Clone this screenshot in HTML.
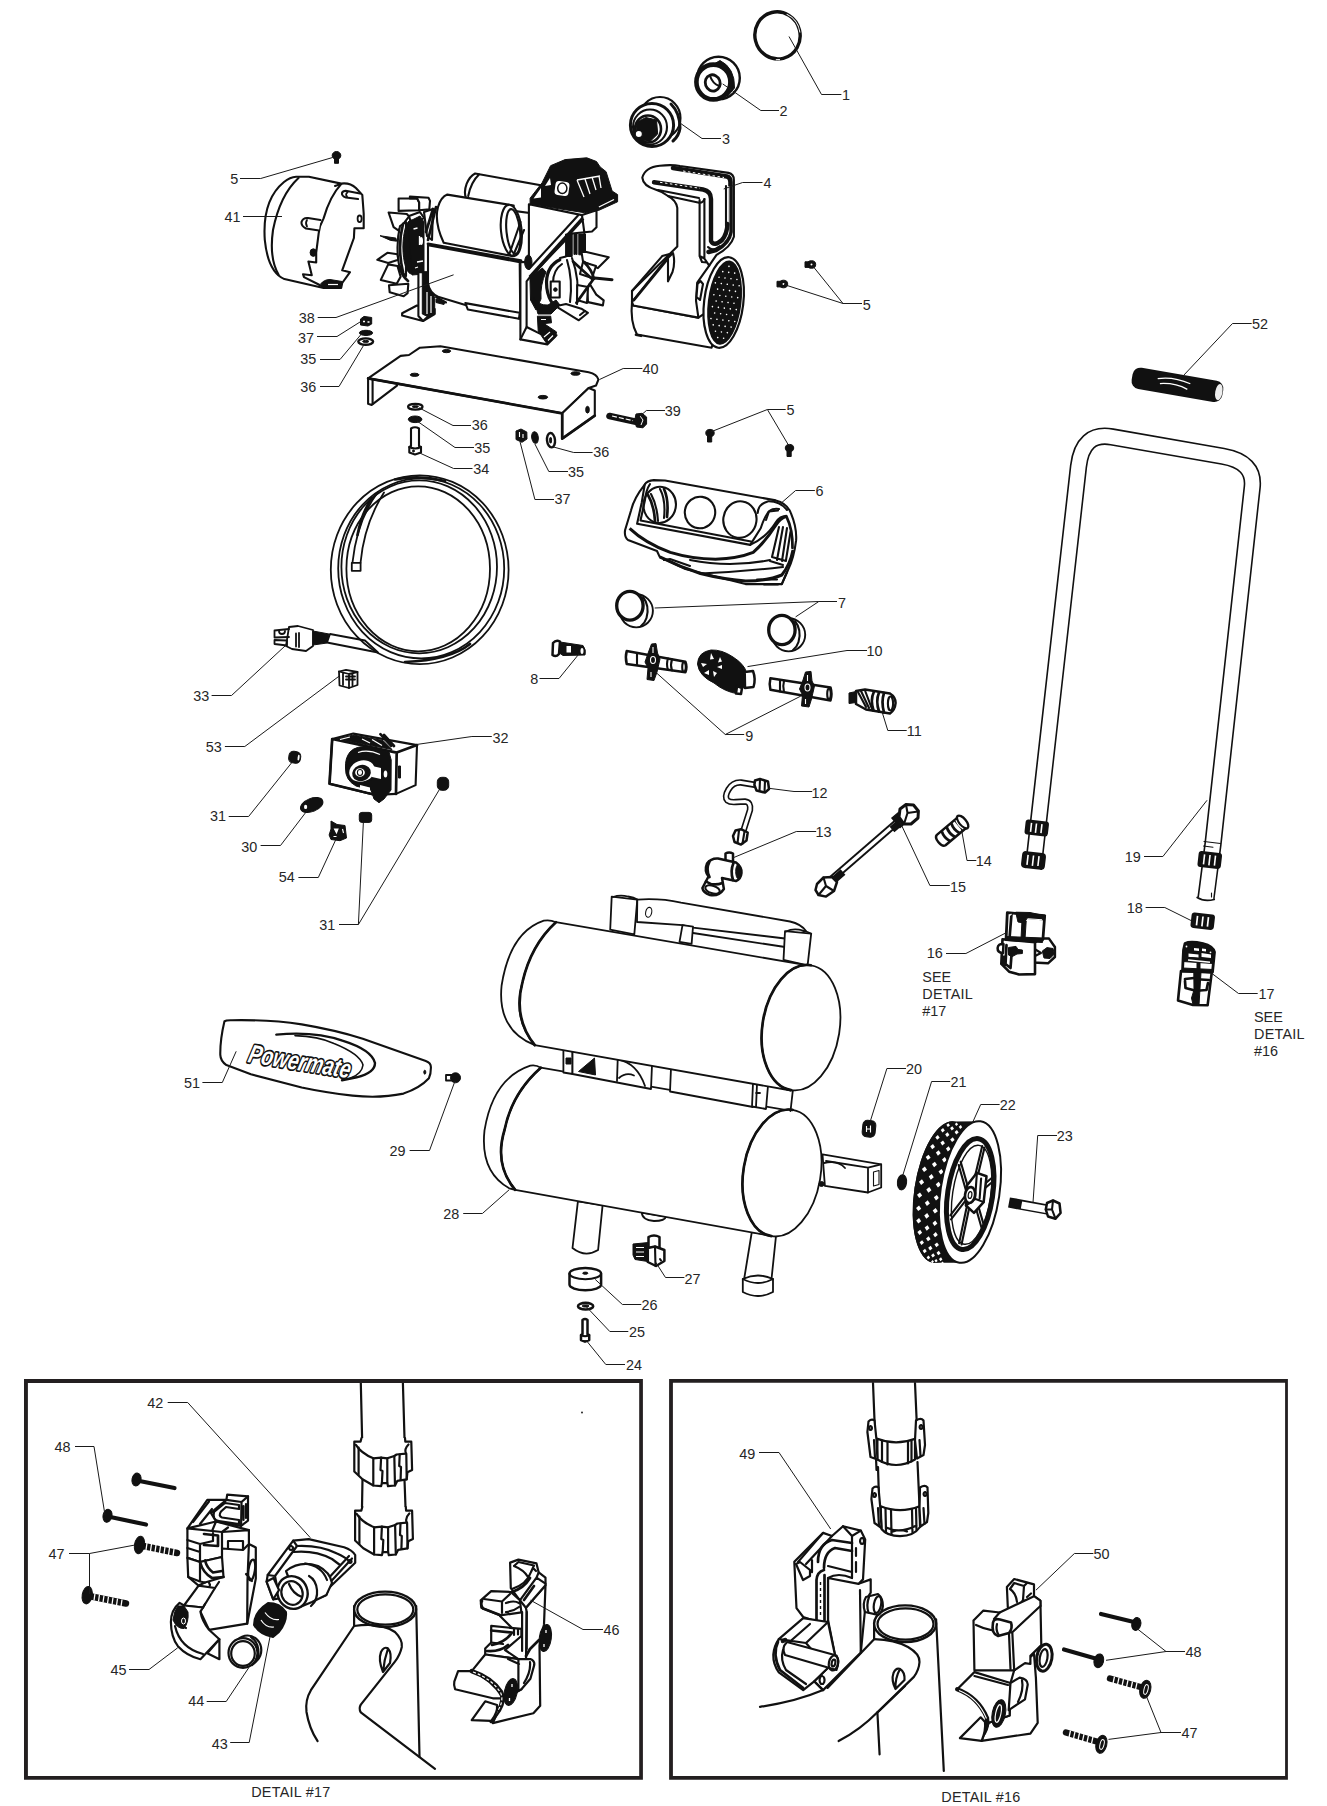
<!DOCTYPE html>
<html lang="en">
<head>
<meta charset="utf-8">
<title>Powermate Air Compressor - Exploded Parts Diagram</title>
<style>
html,body{margin:0;padding:0;background:#fff;}
body{width:1327px;height:1806px;overflow:hidden;font-family:"Liberation Sans",sans-serif;}
svg{display:block;}
svg text{font-family:"Liberation Sans",sans-serif;font-size:14.4px;fill:#262626;}
.ld{fill:none;stroke:#1a1a1a;stroke-width:1;}
.p{fill:none;stroke:#111;stroke-width:1.8;stroke-linejoin:round;stroke-linecap:round;}
.pw{fill:#fff;stroke:#111;stroke-width:1.8;stroke-linejoin:round;stroke-linecap:round;}
.m{fill:none;stroke:#111;stroke-width:2.1;stroke-linejoin:round;stroke-linecap:round;}
.mw{fill:#fff;stroke:#111;stroke-width:2.1;stroke-linejoin:round;stroke-linecap:round;}
.t{fill:none;stroke:#111;stroke-width:1.1;stroke-linejoin:round;stroke-linecap:round;}
.tw{fill:#fff;stroke:#111;stroke-width:1.1;stroke-linejoin:round;stroke-linecap:round;}
.k{fill:#111;stroke:#111;stroke-width:1;stroke-linejoin:round;}
.h{fill:none;stroke:#111;stroke-width:2.7;stroke-linejoin:round;stroke-linecap:round;}
.hw{fill:#fff;stroke:#111;stroke-width:2.5;stroke-linejoin:round;stroke-linecap:round;}
.dt .m,.dt .mw{stroke-width:2.2;}
</style>
</head>
<body>
<svg width="1327" height="1806" viewBox="0 0 1327 1806">
<rect x="0" y="0" width="1327" height="1806" fill="#fff"/>
<g id="tanks">
<!-- top handle frame on upper tank -->
<path class="pw" d="M611.7 896.6 L637.3 899.6 L634.3 934.3 L610.2 929.7 Z"/>
<path class="p" d="M613 897 Q620 894.5 628 896.5 Q634 897.5 637.3 899.6"/>
<path class="pw" d="M637.3 899.6 Q660 898 681 902.6 L790 921.5 Q801 924 806 931 L785 938.5 L693 927.6 L682.5 925.2 L637 922 Z"/>
<ellipse class="t" cx="648.7" cy="912.3" rx="3" ry="5" transform="rotate(12 648.7 912.3)"/>
<path class="pw" d="M682.5 925.2 L693 926.7 L691.6 943.9 L679.5 941.8 Z"/>
<path class="p" d="M693 933 L785 947"/>
<path class="pw" d="M785 931.2 L811.2 933.7 L807.6 965.3 L783.5 959.9 Z"/>
<path class="p" d="M786 931.5 Q793 928 803 930.5 Q808 931.8 811.2 933.7"/>
<!-- axle -->
<path class="pw" d="M822.5 1154.4 L881.2 1164.3 L881.2 1187.5 L868 1192.5 L824.9 1185.9 Z"/>
<path class="p" d="M868 1167.6 L881.2 1164.3 M868 1167.6 L868 1192.5 M868 1167.6 L826 1161"/>
<path class="t" d="M873.5 1172 L879 1170.5 L879 1184.5 L873.5 1186 Z"/>
<path class="p" d="M824 1163 Q838 1160 845 1168"/>
<!-- legs -->
<path class="pw" d="M577.9 1201.3 L602.6 1205.2 L598.1 1250 Q585 1258 572.5 1248 Z"/>
<path class="pw" d="M641.8 1212.5 Q642 1220 654 1221 Q665 1221 666 1216.5 Z"/>
<path class="pw" d="M751.8 1232 L776 1236 L771.4 1280 L744.3 1278 Z"/>
<path class="pw" d="M742.8 1279 Q758 1272 773 1279 L773 1292 Q758 1300 742.8 1292 Z"/>
<path class="p" d="M742.8 1279 Q758 1287 773 1279"/>
<!-- lower tank -->
<path class="pw" d="M540.8 1067.7 L791 1110.8 L771.4 1236 L515.2 1189.8 Q494 1165 504.5 1130 Q512 1093 540.8 1067.7 Z"/>
<path class="pw" d="M540.8 1067.7 Q536 1064.5 530.3 1065.6 Q493 1078 484.5 1130.4 Q480 1172 509.2 1188.3 L515.2 1189.8 Q494 1165 504.5 1130 Q512 1093 540.8 1067.7 Z"/>
<path class="h" d="M540.8 1067.7 Q512 1093 504.5 1130 Q494 1165 515.2 1189.8"/>
<ellipse class="pw" cx="782" cy="1173" rx="38.6" ry="64" transform="rotate(9.5 782 1173)"/>
<path class="h" d="M782 1109 A38.6 64 0 0 0 782 1237" transform="rotate(9.5 782 1173)"/>
<circle class="k" cx="821.5" cy="1184" r="2.5"/>
<!-- between-tank brackets -->
<path class="pw" d="M563.4 1049.5 L572.5 1051 L572.5 1074 L563.4 1072.5 Z"/>
<path class="k" d="M566 1058 h5 v6 h-5z"/>
<path class="pw" d="M572.5 1051 L652 1065 L651 1089 L572.5 1074 Z"/>
<path class="k" d="M594.5 1058 L595.5 1075 L578.5 1071.5 Z"/>
<path class="p" d="M617.7 1059.4 L617 1081 M617.7 1059.4 Q637 1063 645 1086 M619 1078 Q626 1072 634 1075.5"/>
<path class="pw" d="M671 1068 L755 1083 L753 1107 L670 1091.5 Z"/>
<path class="pw" d="M753 1083 L768 1085.5 L766 1109 L752 1106.5 Z"/>
<path class="p" d="M757 1084 L756 1107 M756 1093 h4"/>
<path class="p" d="M793 1089 L790.5 1111"/>
<!-- upper tank -->
<path class="pw" d="M555.9 922.2 L807.6 965.3 L791 1090.5 L534.8 1045.2 Q512 1022 521.8 985 Q528 948 555.9 922.2 Z"/>
<path class="pw" d="M555.9 922.2 Q550 919.5 543.8 920.7 Q510 932 501.6 985.5 Q497 1030 534.8 1045.2 Q512 1018 522.5 982 Q531 945 555.9 922.2 Z"/>
<path class="h" d="M555.9 922.2 Q531 945 522.5 982 Q513 1018 534.8 1045.2"/>
<ellipse class="pw" cx="801" cy="1027.7" rx="38.6" ry="63.2" transform="rotate(9 801 1027.7)"/>
<path class="h" d="M801 964.5 A38.6 63.2 0 0 0 801 1090.9" transform="rotate(9 801 1027.7)"/>
</g>
<g id="handle">
<path d="M1033.2 869 L1078.5 466.5 Q1082.4 431.7 1112 436.9 L1222.8 456.3 Q1255 461.9 1252.2 487.2 L1213 844 L1206 898" fill="none" stroke="#111" stroke-width="17.4" stroke-linejoin="round"/>
<path d="M1033 871 L1078.5 466.5 Q1082.4 431.7 1112 436.9 L1222.8 456.3 Q1255 461.9 1252.2 487.2 L1213 844 L1205.8 900" fill="none" stroke="#fff" stroke-width="14.2" stroke-linejoin="round"/>
<path class="p" d="M1197.2 897.5 Q1204 902 1214.2 899.5"/>
<!-- rings on left leg -->
<g transform="rotate(6.5 1036.5 828)">
<rect x="1025" y="820.5" width="23.5" height="15" rx="3" fill="#111"/>
<path d="M1031 823.5v9M1036 823.5v9.5M1041.5 823.5v9" stroke="#fff" stroke-width="1.6" fill="none"/>
</g>
<g transform="rotate(6.5 1033.5 860.5)">
<rect x="1021.5" y="852" width="24" height="17" rx="4" fill="#111"/>
<path d="M1027.5 855.5v10M1033 855.5v10.5M1038.5 855.5v10" stroke="#fff" stroke-width="1.6" fill="none"/>
</g>
<!-- ring on right leg -->
<path class="t" d="M1204 841.5 L1220.5 843.5 M1203.5 846 L1213 847.2"/>
<g transform="rotate(6.5 1209.5 860)">
<rect x="1198" y="852" width="23.5" height="16" rx="3" fill="#111"/>
<path d="M1204 855v10M1209.5 855v10.5M1215 855v10" stroke="#fff" stroke-width="1.6" fill="none"/>
</g>
<path class="t" d="M1211.5 893 v4"/>
<!-- 18 clip -->
<g transform="rotate(6.5 1203 921)">
<rect x="1191" y="913.5" width="23.5" height="15.5" rx="3" fill="#111"/>
<path d="M1197 916.5v9.5M1202.5 916.5v10M1208 916.5v9.5" stroke="#fff" stroke-width="1.7" fill="none"/>
</g>
<!-- 52 grip -->
<g transform="rotate(9.8 1177 384.5)">
<rect x="1131.5" y="374" width="92" height="21.5" rx="8" fill="#111"/>
<ellipse cx="1219.5" cy="384.8" rx="3.6" ry="8.2" fill="#eee"/>
<path d="M1157 382 Q1172 377 1190 381.5 M1160 386.5 Q1175 383 1188 387.5" stroke="#fff" stroke-width="1.3" fill="none"/>
</g>
</g>
<g id="cord">
<!-- lead to plug -->
<path class="pw" d="M365 640.5 L330 634 L327 642.5 L378 652.5 Z"/>
<ellipse class="p" cx="419.7" cy="569.7" rx="88.9" ry="94.4"/>
<ellipse class="p" cx="421.2" cy="568.4" rx="83" ry="90"/>
<ellipse class="p" cx="419.2" cy="566.8" rx="77.8" ry="86.5"/>
<ellipse class="p" cx="418.2" cy="568.8" rx="71.8" ry="82.5"/>
<path class="h" d="M395 479.5 Q420 474.5 445 481 M470 644 Q450 660 405 662"/>
<!-- inner loose end -->
<path class="p" d="M378 492 Q357 520 352.5 562.5 M384 492.5 Q364 524 360.5 563"/>
<path class="h" d="M372 498 Q362 512 357.5 535"/>
<rect class="pw" x="351.8" y="562.8" width="8.8" height="8" />
<!-- plug -->
<path class="pw" d="M289 627 L298 626 L313 630 L313 646 L306 651 L292 649 L286 646 Z"/>
<path class="p" d="M274.5 630.5 L289 629 M274.5 637.5 L289 637 M274.5 630.5 v7 M274.5 640 L287 640.5 L287 645.5 L274.5 644 Z M299 633 L299 647 M296 633.5 v13"/>
<path class="p" d="M279 631 a3 3 0 1 0 6 0"/>
<path class="k" d="M313 631 L329 634 L327 643 L313 645 Z"/>
<!-- 53 -->
<path class="pw" d="M339 671.5 L346 669.8 L357.5 672 L357.5 685 L349 688 L339.5 685.5 Z"/>
<path class="p" d="M339 671.5 L349 674 L357.5 672 M349 674 V688 M343 673 v12 M352.5 673.5 v12 M346 676.5 h9 M346 679.5 h9"/>
</g>
<g id="cover41">
<path class="mw" d="M296.1 176.7 L308.9 176.7 L341.2 183.6 Q350 182.5 355.9 188 L362.3 194.9 L363.7 213.5 L363.7 228.2 L354.4 228.2 L353.9 238 L342.2 270.3 L350 272.2 L342.2 283 L341.2 287.9 L323.6 287.9 L284.4 279.1 Q268 272 264.8 240 Q262 200 284 182 Q290 177 296.1 176.7 Z"/>
<path class="m" d="M298.5 178 Q280 195 273 230 Q269 258 278.5 274.5"/>
<path class="m" d="M341.2 184.1 Q330 196 323.6 218.4 L320.1 226 L318.7 233.1 L316.2 252.7 L316.2 262.5 L308.4 261.5 L311.8 275.2 L303 274.2 L304 277.1 L317.7 284 L324 287.5"/>
<path class="m" d="M335 186 l6 -2"/>
<path class="mw" d="M358 199 L346 197.5 Q341.5 196 342 193 Q343 190.5 347 191 L360 193.5"/>
<path class="mw" d="M319 230.5 L306 228.5 Q301 226 301.5 222 Q303 217.5 308 218 L320.5 220"/>
<path class="p" d="M347.5 192.5 Q345 194 347 196.5 M307 220 Q305 223 307 226.5"/>
<ellipse class="p" cx="359.6" cy="218.8" rx="2" ry="3.3"/>
<ellipse class="k" cx="313.3" cy="252.6" rx="3.2" ry="3.8"/>
<path class="k" d="M320.6 284 Q324 279.5 330 279.5 L342.2 281.5 L341.2 287.9 L323.6 287.9 Z"/>
<path d="M328 284.5 h10" stroke="#fff" stroke-width="1.2" fill="none"/>
<!-- screw 5 -->
<ellipse class="k" cx="336.5" cy="155.5" rx="4.3" ry="4"/>
<path class="k" d="M334.5 159 h4 v4.3 h-4z"/>
</g>
<g id="motor38">
<!-- rear upper cylinder -->
<path class="mw" d="M475.1 173.5 L545 186 L545 215 L470 205 Q462 196 466.6 183.8 Q470 176 475.1 173.5 Z"/>
<path class="m" d="M479 174.5 Q471 182 468.2 196"/>
<!-- front upper cylinder -->
<path class="mw" d="M447.3 194.6 L513.7 205.5 L512.4 256.1 L443.7 242.8 Q434 222 438 207 Q441 197 447.3 194.6 Z"/>
<ellipse class="mw" cx="511.3" cy="230.5" rx="10.3" ry="25.8" transform="rotate(-6 511.3 230.5)"/>
<ellipse class="m" cx="513.3" cy="231.5" rx="6.8" ry="22.5" transform="rotate(-6 513.3 231.5)"/>
<path class="m" d="M520.5 222 L509 255 M524 230 L513 256"/>
<!-- fan blades left -->
<g class="mw">
<path d="M398.600 198.500 L417.200 198.500 L419.200 202.400 L419.200 210.200 L398.600 210.900 Z"/>
<path d="M409.900 196.600 L428.500 197.800 L430 200.900 L429.300 209.400 L419.200 210.200 L419.200 202.400 L417.200 198.500 L409.900 198.500 Z"/>
<path d="M388.600 212.500 L406.800 214 L409.100 216.400 L398.300 230.300 L393.600 227.200 Z"/>
<path d="M377.300 259.800 L387.400 252.800 L397.500 254.300 L398.300 259.800 L388.200 262.900 Z"/>
<path d="M388.200 264.400 L397.500 266 L400.600 276.800 L396.700 283.800 L380.800 279.900 Z"/>
<path d="M389 285.300 L408.300 283.800 L407.600 293.100 L403.700 296.200 L389.700 292.300 Z"/>
<path d="M424 212 L433 209 L432 240 L427 236 Z"/>
<path d="M409 216 L420 212 L424 218 L412 226 Z"/>
</g>
<path class="k" d="M380 235.700 L395.900 238.100 L396.700 241.200 L390.500 240.400 Z"/>
<path class="h" d="M433 209 L426 232 M436 207 L428 240"/>
<!-- hub rings -->
<path class="mw" d="M400 226 Q395 247 400 270 L406 276 L406 222 Z"/>
<path class="h" d="M403 224 Q397 247 403 272 M408 281 Q402 276 399 266"/>
<ellipse class="k" cx="411.500" cy="247" rx="8.600" ry="27"/>
<path class="k" d="M408 222 L420 216 L424 222 L424 274 L412 275 Z"/>
<path d="M413.500 229 l4 -1 M419.500 236 v9 M417 262 l6 -1 M415 268 l3 -1" stroke="#fff" stroke-width="1.300" fill="none"/>
<ellipse cx="421.200" cy="241" rx="1.800" ry="4" fill="#fff"/>
<!-- left foot bracket -->
<path class="mw" d="M402.100 313.300 L416.900 305.500 L434.700 309 L434.700 314 L423 321 L402.100 315.600 Z"/>
<path class="mw" d="M418.400 272.200 L428.500 272.200 L428.500 316 L423 321 L418.400 316 Z"/>
<path class="k" d="M422.300 272 L428.500 272 L434.700 298.500 L434.700 314 L428.500 317 L422.300 314 Z"/>
<path d="M427 292 v22 M431 296 v17" stroke="#fff" stroke-width="1.200" fill="none"/>
<!-- main motor body -->
<path class="mw" d="M428 245.2 L519.7 262.1 L520.3 318.8 L465.4 305 L438.9 297.1 Q429 293 428 282.6 Z"/>
<path class="h" d="M428 243.8 L521 260.6"/>
<path class="m" d="M436 297 Q441 300 446 302.5"/>
<path class="k" d="M436 299 l9 2.5 l-1 3 l-8 -2z"/>
<path class="mw" d="M465.4 303.1 L519.7 312.8 L519 318.8 L467.8 309.5 Z"/>
<!-- right bracket -->
<path class="mw" d="M528.900 204.300 L582 215.100 L596.500 210.300 L596.500 227.200 L592 231.500 L572 233.500 L529.900 277.200 L526.600 281.300 L526.600 327 L539.900 333.600 L556.500 335.200 L547.300 344.400 L520.400 339.400 L520.400 262.100 L528.900 262 Z"/>
<path d="M583 218.300 L529.900 277.200" fill="none" stroke="#111" stroke-width="3.600"/>
<path class="m" d="M578 215.500 L529 269 M582 215.100 L584.400 233 M520.400 339.400 L526.600 327"/>
<ellipse class="k" cx="528.300" cy="262.200" rx="3.700" ry="7.200"/>
<!-- pump internals -->
<path class="k" d="M565.600 234 h6.600 v22.500 h-6.600z M578.800 234 h6.700 v20.800 h-6.700z"/>
<path class="m" d="M574.500 234 v20 M576.500 234 v20"/>
<path class="k" d="M529.900 277.200 L542.400 268.100 L546 272 Q540 285 541 299 L536 310 L530.500 300 Z"/>
<path d="M559.800 259.800 Q547 266 546.500 282 Q546.500 294 551.500 302" fill="none" stroke="#111" stroke-width="3.200" stroke-linecap="round"/>
<path class="m" d="M562 264 Q553 270 553 283 M567 260 Q573 280 570 302 M572 258 Q580 280 577 304 M560 258 L566 256.500"/>
<g class="mw">
<path d="M581.300 250.700 L608.700 257.300 L597.900 268.100 L583 261.400 Z"/>
<path d="M583 262 L596 266 L592 278 L580 274 Z"/>
<path d="M589.600 283.800 L596.300 294.600 L603.700 300.400 L602.900 305.400 L588 302.100 L587.100 289.600 Z"/>
<path d="M577.200 285 L588 287 L587 303 L577 300 Z"/>
</g>
<path d="M594.600 278 L612 279.700" fill="none" stroke="#111" stroke-width="3" stroke-linecap="round"/>
<path class="h" d="M573 261.400 L593 279.700 L576.400 302.900 M584 262 Q592 270 594 279"/>
<rect class="mw" x="550.700" y="281.500" width="9" height="16" />
<circle class="k" cx="555.400" cy="289.600" r="1.800"/>
<path class="mw" d="M555.600 306.200 L578.800 320.300 L588 312.800 L581.300 308.700 L566 304 Z"/>
<path class="m" d="M580 315 l5 -4"/>
<path class="k" d="M533 296 Q538 306 548 305 L556 300 L560 305 L551 314 L538 314 Z"/>
<path class="k" d="M537.400 316.200 L550.700 316.200 L551.500 322.800 L544 323.600 L556.500 331.900 L555.600 336.900 L547.300 344.400 L538.200 331.100 Z"/>
<path d="M541 319.500 h5 M544 337 l6 -5 M548 340.500 l5 -5" stroke="#fff" stroke-width="1.200" fill="none"/>
<!-- pump head black -->
<path class="k" d="M542.2 182.6 L550.6 165.7 L565.1 159.6 L586.8 157.8 L596.5 161.5 L600.1 166.9 L606.1 171.7 L612.1 191 L617.6 194.6 L617.6 201.8 L598.9 210.3 L584.4 212.7 L530.1 204.3 L530.1 198.2 Z"/>
<path d="M533.5 198.5 L541 188 L541 197.5 Z M545 186 l5 -8 l1 7z" fill="#fff"/>
<rect x="555" y="181.5" width="14" height="14" rx="3.5" fill="#fff" transform="rotate(8 562 188.5)"/>
<ellipse cx="562.3" cy="188.3" rx="4.6" ry="5.2" fill="#fff" stroke="#111" stroke-width="1.5"/>
<path d="M577 180 L584 197 M585 179 L590 194 M592 177 L596 190 M599 176 L601 188 M577 180 L600 176" stroke="#fff" stroke-width="1.3" fill="none"/>
<path d="M598.9 207 L614 199.5" stroke="#fff" stroke-width="1.3" fill="none"/>
</g>
<g id="shroud4">
<!-- lower body -->
<path class="mw" d="M632 301.9 Q630 322 637 334.5 L711.6 347.7 L725 300 L698.4 317.6 L633.3 305.5 Z"/>
<path class="h" d="M636 334.8 l5 1"/>
<!-- upper body -->
<path class="mw" d="M642.3 177.7 Q645 167 659.8 165.7 Q672 164.5 680 166 L728.5 172.9 Q733.9 174 733.9 180 L733.9 236.8 Q731 247 716.5 254.9 L709.2 265.7 L697.2 282.6 L696 300.7 L698.4 317.6 L633.3 305.5 L632 301.9 L632 291 L677.3 246.5 L677.3 207.9 Q676 200 668 196 Q662 191.5 656 189.8 Q643 186 642.3 177.7 Z"/>
<!-- flap lines -->
<path class="m" d="M662.2 256.1 L632 291 M670.6 253.7 L632 301.9 M662.2 256.1 L670.6 253.7"/>
<path class="h" d="M670 256 L634 300"/>
<path class="mw" d="M668 258 L673 253 Q675.5 262 672.5 272 L668 281.4 Z"/>
<!-- black U channel outer -->
<path d="M673 168 L727 176.5 Q730.5 177.5 730.5 182 L730.5 232 Q729 243 716 250 L708.5 252" fill="none" stroke="#111" stroke-width="4.6" stroke-linejoin="round" stroke-linecap="round"/>
<path d="M683 171 L724 177.5" fill="none" stroke="#fff" stroke-width="1" stroke-dasharray="2.5 2.5"/>
<path d="M728.8 186 V232 Q727 240 720 245" fill="none" stroke="#fff" stroke-width="1.1"/>
<!-- inner black band -->
<path d="M654 182.2 L703 189.5 Q711 191 711 199 L711 241 Q714 247 722 240 Q727 234 727.5 224" fill="none" stroke="#111" stroke-width="4.4" stroke-linejoin="round" stroke-linecap="round"/>
<path d="M660 182.3 L700 188.3" fill="none" stroke="#fff" stroke-width="1" stroke-dasharray="2.5 2.5"/>
<path class="m" d="M726 186 V226 M708 247 Q713 252.5 722 246"/>
<!-- ledge and inner strip -->
<path class="m" d="M658 190 L699 198 M668 196 L698 202.5 Q703 203.5 704.4 199"/>
<path class="m" d="M699.6 200 L699.6 256 L704.4 258.5 L704.4 199 M699.6 256 L702 262 L707 262.5 M704.4 258.5 L709.2 265.7"/>
<path class="mw" d="M700.5 281 L697.5 284 L696.5 297 L700 300 L703 284 Z"/>
<!-- disc -->
<g transform="rotate(7 723.7 302.5)">
<ellipse cx="723.7" cy="302.5" rx="19.6" ry="45.6" fill="#fff" stroke="#111" stroke-width="2.2"/>
<ellipse cx="724.6" cy="302.5" rx="16.8" ry="42.4" fill="#111"/>
<g fill="#fff">
<circle cx="724.5" cy="266" r=".8"/><circle cx="719" cy="272" r=".8"/><circle cx="725" cy="272" r=".8"/><circle cx="731" cy="272" r=".8"/>
<circle cx="716" cy="278" r=".8"/><circle cx="722" cy="278" r=".8"/><circle cx="728" cy="278" r=".8"/><circle cx="734" cy="278" r=".8"/>
<circle cx="713" cy="284" r=".8"/><circle cx="719" cy="284" r=".8"/><circle cx="725" cy="284" r=".8"/><circle cx="731" cy="284" r=".8"/><circle cx="737" cy="284" r=".8"/>
<circle cx="716" cy="290" r=".8"/><circle cx="722" cy="290" r=".8"/><circle cx="728" cy="290" r=".8"/><circle cx="734" cy="290" r=".8"/>
<circle cx="713" cy="296" r=".8"/><circle cx="719" cy="296" r=".8"/><circle cx="725" cy="296" r=".8"/><circle cx="731" cy="296" r=".8"/><circle cx="737" cy="296" r=".8"/>
<circle cx="716" cy="302" r=".8"/><circle cx="722" cy="302" r=".8"/><circle cx="728" cy="302" r=".8"/><circle cx="734" cy="302" r=".8"/>
<circle cx="713" cy="308" r=".8"/><circle cx="719" cy="308" r=".8"/><circle cx="725" cy="308" r=".8"/><circle cx="731" cy="308" r=".8"/><circle cx="737" cy="308" r=".8"/>
<circle cx="716" cy="314" r=".8"/><circle cx="722" cy="314" r=".8"/><circle cx="728" cy="314" r=".8"/><circle cx="734" cy="314" r=".8"/>
<circle cx="713" cy="320" r=".8"/><circle cx="719" cy="320" r=".8"/><circle cx="725" cy="320" r=".8"/><circle cx="731" cy="320" r=".8"/><circle cx="737" cy="320" r=".8"/>
<circle cx="716" cy="326" r=".8"/><circle cx="722" cy="326" r=".8"/><circle cx="728" cy="326" r=".8"/><circle cx="734" cy="326" r=".8"/>
<circle cx="719" cy="332" r=".8"/><circle cx="725" cy="332" r=".8"/><circle cx="731" cy="332" r=".8"/>
<circle cx="722" cy="338" r=".8"/><circle cx="728" cy="338" r=".8"/>
</g>
</g>
<!-- screws 5 -->
<g class="k"><ellipse cx="811.500" cy="264.500" rx="4.200" ry="3.800"/><path d="M805 261.800 h6 v5.600 h-6z"/><ellipse cx="783.500" cy="284" rx="4.200" ry="3.800"/><path d="M777 281.300 h6 v5.600 h-6z"/></g>
<circle cx="811.5" cy="264.5" r="1" fill="#fff"/><circle cx="783.5" cy="284" r="1" fill="#fff"/>
</g>
<g id="p123">
<!-- 1 ring -->
<g transform="rotate(-14 777.500 35.400)">
<ellipse cx="777.500" cy="35.400" rx="22.600" ry="23.600" fill="none" stroke="#111" stroke-width="3.400"/>
<path d="M791.500 17 A22.600 23.600 0 0 1 800 38" fill="none" stroke="#fff" stroke-width="1"/>
<path d="M770 58.600 l4 .8" fill="none" stroke="#fff" stroke-width="1.200"/>
</g>
<!-- 2 bearing -->
<ellipse class="mw" cx="718.500" cy="78" rx="21.300" ry="21.300" style="stroke-width:2.400"/>
<path class="k" d="M720 60.500 Q735 68 734.500 88 L727 97 Q724 80 714 64 Z"/>
<ellipse cx="713.400" cy="82" rx="17" ry="17.400" fill="#fff" stroke="#111" stroke-width="4.600"/>
<ellipse cx="712.700" cy="82.900" rx="7.400" ry="8.200" fill="#fff" stroke="#111" stroke-width="2.800" transform="rotate(-20 712.700 82.900)"/>
<path class="m" d="M710 76 Q713 84 719 86"/>
<!-- 3 -->
<ellipse class="mw" cx="660" cy="118" rx="20.500" ry="21"/>
<ellipse class="mw" cx="652" cy="125" rx="21.600" ry="21.600" style="stroke-width:3"/>
<path class="h" d="M671 104 Q680 113 680 128 Q679 136 673 141" style="stroke-width:3"/>
<ellipse class="m" cx="650" cy="127" rx="17" ry="17.500"/>
<ellipse class="m" cx="648" cy="129" rx="13" ry="13.500" style="stroke-width:2.600"/>
<path class="k" d="M637 122 L646 117.500 L656.500 120 L657.700 134 L650 141.500 L640 140 L636 131 Z"/>
<circle cx="638.800" cy="134" r="3.600" fill="#fff" stroke="#111" stroke-width="1.200"/>
</g>
<g id="plate40">
<path class="mw" d="M368.1 378.4 L368.1 403.7 L371.7 404.9 L397 385.6 L397 382 Z"/>
<path class="m" d="M372.6 379.5 V404"/>
<path class="mw" d="M368.1 378.4 L400.6 355.9 L409 355 L419.9 347.7 L440.4 346.3 L588.7 372.3 Q597 374 598.4 379.6 L596 385.6 L588.7 388 L562.2 413.3 Z"/>
<path class="h" d="M368.1 378.4 L562.2 413.3"/>
<path class="mw" d="M562.2 413.3 L562.2 438.7 L594.8 415.7 L594.8 390.4 L588.7 388 Z"/>
<path class="h" d="M562.2 413.3 V438.7 L594.8 415.7"/>
<ellipse class="k" cx="587.5" cy="409.7" rx="1.8" ry="3.4"/>
<g class="k"><ellipse cx="446.5" cy="351.1" rx="4.2" ry="1.6"/><ellipse cx="414.6" cy="374.8" rx="4.4" ry="1.6"/><ellipse cx="575.5" cy="373.5" rx="4.6" ry="1.8"/><ellipse cx="542.9" cy="397.2" rx="4.8" ry="1.8"/></g>
</g>
<g id="hardware">
<!-- 37 nut -->
<path class="k" d="M360.5 319 L364 316.4 L371.7 317.5 L371.7 324 L368 326 L360.5 325 Z"/>
<path d="M363 321.5 h2 M367.5 322 h2" stroke="#fff" stroke-width="1.3"/>
<!-- 35, 36 washers -->
<ellipse class="k" cx="366" cy="332.9" rx="6.6" ry="2.6"/>
<ellipse cx="365.7" cy="341.6" rx="7.4" ry="3.2" fill="#fff" stroke="#111" stroke-width="2.4"/>
<ellipse class="k" cx="365.7" cy="341.4" rx="3.2" ry="1"/>
<!-- below plate -->
<ellipse cx="415.3" cy="406.8" rx="7.2" ry="2.9" fill="#fff" stroke="#111" stroke-width="2.3"/>
<ellipse class="k" cx="415.3" cy="406.6" rx="3.2" ry=".9"/>
<ellipse class="k" cx="415.1" cy="419.3" rx="6.8" ry="3.3"/>
<path class="mw" d="M411 428.5 Q415 426 419 428.5 L419 446 L421 447 L421 452.5 L415 454.5 L409.3 452.5 L409.3 447 L411 446 Z"/>
<path class="m" d="M409.3 447 Q415 450 421 447"/>
<circle class="k" cx="413.5" cy="451" r="1"/>
<!-- 37 35 36 right -->
<path class="k" d="M516 431 L521 429 L526.8 432 L527 439 L522 442.3 L516 439.5 Z"/>
<path d="M519.5 432 v5 M523 434 v4" stroke="#fff" stroke-width="1.1"/>
<ellipse class="k" cx="535" cy="437.5" rx="3.3" ry="5.8" transform="rotate(-8 535 437.5)"/>
<ellipse cx="551" cy="440.2" rx="4" ry="7.2" fill="#fff" stroke="#111" stroke-width="2.4" transform="rotate(-6 551 440.2)"/>
<ellipse class="k" cx="550.6" cy="440.2" rx="1" ry="3"/>
<!-- 39 bolt -->
<path d="M609.500 416 L637 422" stroke="#111" stroke-width="6.600" stroke-linecap="round" fill="none"/>
<path d="M612 416 L633 420.600" stroke="#fff" stroke-width="1.200" stroke-dasharray="5 2" fill="none"/>
<path class="k" d="M636 414 L642 413.3 L646.6 417 L646.6 424 L643 427.8 L636.5 427 L634.5 421 Z"/>
<path d="M640 416 l3 4 l-2 5" stroke="#fff" stroke-width="1" fill="none"/>
<!-- screws 5 -->
<g class="k"><ellipse cx="710" cy="433" rx="4.2" ry="3.6"/><path d="M707.5 436 h4.2 v6 h-4.2z"/><ellipse cx="789.5" cy="448" rx="4.2" ry="3.6"/><path d="M787 451 h4.2 v5.5 h-4.2z"/></g>
</g>
<g id="panel6">
<path class="mw" d="M644.7 484.6 Q647 480.5 653.7 480.1 L665 480.5 L775.8 500.4 Q787 503 790.9 513.2 Q797 528 796.1 540.4 Q794 558 787.8 570.5 L781.8 584.1 L745.6 584.1 L685.4 569 L659.7 556.9 L657 551 L628 540 Q624 537 625.1 530 L631.1 510.2 Q634 498 644.7 484.6 Z"/>
<path class="m" d="M644.7 484.6 L641.7 502.7 L637.1 523.8 L750.2 544.9 L760.7 528.3 Q764 518 768.3 512 Q772 508 779 509"/>
<path class="m" d="M650 484 Q646 490 645 500 L640.5 520.5 L751 541.5 M757.7 513 Q758 504 768.3 501.2 Q780 501 787 510"/>
<path class="m" d="M766 520 L769 511.5 L778 510.5 M750.2 544.9 Q766 538 776 522 Q780 516 786 516"/>
<ellipse class="m" cx="659.7" cy="504.9" rx="16.2" ry="18.1" transform="rotate(8 659.7 504.9)"/>
<path class="h" d="M648 495 Q654 505 655 521 M664 489 Q669 500 667 517"/>
<path class="m" d="M651 494 Q657 505 658 521 M660 489 Q666 500 664 518"/>
<ellipse class="m" cx="700" cy="512.5" rx="15.2" ry="15.8" transform="rotate(8 700 512.5)"/>
<ellipse class="m" cx="739.9" cy="519.6" rx="16.6" ry="18.3" transform="rotate(8 739.9 519.6)"/>
<path d="M629.6 528.3 Q645 543 670.3 552.4 Q692 559 715.5 559.2 Q738 558.5 753.2 552.4 Q766 541 775.8 525.3 Q780 518 786.3 516.2" fill="none" stroke="#111" stroke-width="3"/>
<path d="M659.7 556.9 Q680 567 700.4 573.5 Q722 579 745.6 581 Q768 581 781.8 575 Q790 565 793 550" fill="none" stroke="#111" stroke-width="3"/>
<path class="m" d="M690 560 Q730 568 770 560 M664 560 L670 559 L690 566 M700.4 573.5 Q740 572 783 567 M781.8 584.1 L787 572 M757 579.5 h20 M764 584.5 h14"/>
<path class="m" d="M779 527 L772 557 M783 527 L777 560 M787 528 L782 561 M790.5 532 L786 560 M772 557 L786 561 M770 561 L783 565"/>
<path class="h" d="M786.3 516.2 Q793 530 792.5 548"/>
</g>
<g id="rings7">
<ellipse cx="636.3" cy="610.8" rx="16.6" ry="16.6" fill="#fff" stroke="#111" stroke-width="1.9"/>
<path class="m" d="M643 597 Q650 606 646.5 618 Q645 623 641 626"/>
<ellipse cx="629.9" cy="605.8" rx="13.2" ry="14.4" fill="#fff" stroke="#111" stroke-width="3.3"/>
<ellipse cx="788.6" cy="634.8" rx="16.6" ry="16.6" fill="#fff" stroke="#111" stroke-width="1.9"/>
<path class="m" d="M795 621 Q802 630 798.5 642 Q797 647 793 650"/>
<ellipse cx="781.9" cy="630" rx="13.2" ry="14.6" fill="#fff" stroke="#111" stroke-width="3.3"/>
</g>
<g id="p8">
<path class="hw" d="M553 643 Q556 639.5 560 641.5 L559 654 Q556 657.5 552.5 655 Z"/>
<path class="k" d="M560 642 L583 645.5 Q586.5 650 585 655 L563 655.5 L559.5 653 Z"/>
<rect x="566.5" y="646" width="4.5" height="6.5" fill="#fff"/>
<ellipse cx="582" cy="651" rx="1.5" ry="3" fill="#fff"/>
<path d="M556 645 v7" stroke="#fff" stroke-width="1.2"/>
</g>
<g id="p9a">
<path class="hw" d="M626.7 651.1 L685.4 661.7 Q687.5 667 685.4 672.2 L626.7 663.9 Q625 657 626.7 651.1 Z"/>
<path class="m" d="M637 653 V665 M668 658.5 Q666 664 668 670 M672 659.5 Q670 665 672 670.5"/>
<ellipse class="m" cx="684" cy="667" rx="1.8" ry="5"/>
<path class="k" d="M651.5 644 L656 643.6 L657.5 653 L660 659 L657 672 L654 680.5 L647 679.5 L648 668 L645 662 L648.5 652 Z"/>
<path d="M653 647 v6 M651 672 v5 M650.5 660 a2.5 3.5 0 1 0 5 0 a2.5 3.5 0 1 0 -5 0" stroke="#fff" stroke-width="1.1" fill="none"/>
</g>
<g id="p10">
<path class="k" d="M697.5 664 Q698 652 711 650 Q722 649.5 733 657 Q744 664 746.4 672 L745 686 L738 693.8 Q725 692 714 683 Q699 676 697.5 664 Z"/>
<path class="hw" d="M744.7 672 L753 671 Q756 679 753.5 687 L745 688 Z"/>
<path class="hw" d="M737 686 L742 688 L741 694 L736 693.5 Z"/>
<g fill="#fff"><path d="M711 653 l3 6 l-4 .5z M720 657 l-2 5.500 l4 -1z M701 663 l6 1 l-4 3z M722 665 l-5 2 l5 2z M704 673 l5 -3 l0 5z M713 671 l1 6 l3 -4z"/></g>
</g>
<g id="p9b">
<path class="hw" d="M770.4 678.3 L830.5 687.4 Q832.5 694 830.5 700.5 L770.4 689.7 Q769 684 770.4 678.3 Z"/>
<path class="m" d="M780 680 V691.5 M784 681 Q782.500 686 784 692"/>
<ellipse class="m" cx="829" cy="694" rx="1.800" ry="5.500"/>
<path class="k" d="M805.500 672 L811 671.400 L812 681 L814.500 686 L811.500 699 L809 707 L801.500 706 L802.500 695 L799.500 689 L803 680 Z"/>
<path d="M807.500 675 v6 M805.500 699 v5 M805 687.500 a2.500 3.500 0 1 0 5 0 a2.500 3.500 0 1 0 -5 0" stroke="#fff" stroke-width="1.100" fill="none"/>
</g>
<g id="p11">
<path class="k" d="M849 693 L856 691.500 L856 702.500 L849 703.500 Z"/>
<path class="hw" d="M856 691 L865 689.500 L890 693.500 Q895.600 697 895.600 703 Q895 710 890 713.500 L866 709.500 L856 704 Z"/>
<path class="m" d="M858 692 L866 707 M861 691 L869 708 M865 690.500 L872 709"/>
<path class="h" d="M874 691.500 Q870 700 873.500 710.500 M879 692.500 Q875.500 701 879 711.500 M884 693 Q881 702 884 712.500"/>
<ellipse class="m" cx="890.500" cy="703.500" rx="2.600" ry="7"/>
</g>
<g id="switch32">
<path class="mw" d="M332.2 739 L353.3 733.6 L417 745.1 L415.6 785.1 L396 793.9 L375 795 L329.5 783.8 Z"/>
<path class="h" d="M332.2 739 L396.700 752.600 L396 793.900 M396.700 752.600 L417 745.100 M332.200 739 L329.500 783.800 L372 794"/>
<path class="k" d="M336 739 L353.500 735 L383 740.500 L392 749.500 L360 743.500 Z"/>
<path d="M340 739.500 l10 -2.500 M362 739 l8 4 M372 739.500 l10 6" stroke="#fff" stroke-width="1.200" fill="none"/>
<path class="h" d="M380.400 734.200 L391.200 745.800 M384 735 L394 746"/>
<path class="k" d="M350 752 Q356 745 372 747 L389 752 L391.200 760 L391 790 L384 799 L379 802.700 L374 799 L371 790 L356 786 Q345 780 345.500 768 Q345 758 350 752 Z"/>
<ellipse cx="362" cy="771" rx="14" ry="11.500" fill="#fff" stroke="#111" stroke-width="2" transform="rotate(-20 362 771)"/>
<ellipse cx="361.500" cy="773" rx="9.500" ry="8" fill="#111" transform="rotate(-20 361.500 773)"/>
<ellipse cx="360" cy="772.500" rx="5.500" ry="5" fill="#fff" stroke="#111" stroke-width="1.300"/>
<ellipse cx="360" cy="772.500" rx="2.600" ry="3" fill="none" stroke="#111" stroke-width="1.100"/>
<path d="M372 766 L381 768 L381 779 L372 777 Z M360 785 L370 787.500 L370 792 L360 789.500 Z" fill="#fff"/>
<ellipse cx="385.500" cy="774" rx="1.800" ry="3.600" fill="#fff"/>
<path d="M358 752.500 Q368 749 380 754.500" stroke="#fff" stroke-width="1.200" fill="none"/>
<path class="k" d="M398.500 766 h2 v12 h-2z"/>
</g>
<g id="smalls">
<rect class="k" x="288.800" y="751.500" width="11.800" height="11.600" rx="4.500" transform="rotate(8 294.700 757.300)"/>
<ellipse cx="298.600" cy="757.600" rx="1" ry="3" fill="#fff" transform="rotate(8 298.600 757.600)"/>
<ellipse class="k" cx="311.700" cy="805" rx="11.800" ry="6.600" transform="rotate(-22 311.700 805)"/>
<ellipse cx="305.600" cy="806.900" rx="1.600" ry="2.200" fill="#fff"/>
<rect class="k" x="359.300" y="812.400" width="12.400" height="10" rx="2.600"/>
<rect class="k" x="437.300" y="777.300" width="11.400" height="13" rx="4.500"/>
<path class="k" d="M331 821 L337 824.500 L345 825.500 L346.500 838 L340 840.700 L331 839.500 L329.100 835 L331 829 Z"/>
<path d="M334.500 829 h3.500 l-1.500 4 z M342.500 829 l1 4 M333.500 836.500 h3" stroke="#fff" stroke-width="1.100" fill="#fff"/>
</g>
<g id="p12">
<path d="M759 785.500 L741 782.500 Q733 782 728.500 789.500 Q724 797 727.500 800.500 Q730 802.500 736 802 L745 801.500 Q751 802 750 810 L743 832" fill="none" stroke="#111" stroke-width="6.400" stroke-linecap="round" stroke-linejoin="round"/>
<path d="M759 785.500 L741 782.500 Q733 782 728.500 789.500 Q724 797 727.500 800.500 Q730 802.500 736 802 L745 801.500 Q751 802 750 810 L743 832" fill="none" stroke="#fff" stroke-width="3.200" stroke-linecap="round" stroke-linejoin="round"/>
<path class="hw" d="M755 780.500 L760 779 L768 781.500 L769 789 L765 792.600 L756.500 790.500 L754.400 785 Z"/>
<path class="m" d="M760 779.500 L759.500 791 M765 781 L764.500 792"/>
<path class="hw" d="M735.500 830.500 L741 829.200 L747.700 832.500 L746.500 840.500 L741 844.600 L734.500 842 L733 836 Z"/>
<path class="m" d="M739 830.500 L737.500 843 M744.500 831.500 L742.500 843.500"/>
</g>
<g id="p13">
<path class="hw" d="M725.500 853.500 Q729 851.500 733 853.500 L733 862 L725.500 862 Z"/>
<path class="hw" d="M707 863.500 Q711 858 718 858.500 L736 862.500 Q742 867 741.500 873 Q741 879 736 881 L722 878 L723.900 889 Q719 896.500 710 895 Q703 892.500 702.400 888 L708.500 876.500 Q704 871 707 863.500 Z"/>
<path class="h" d="M709.500 861.500 Q705.500 869 709.500 877 M733.500 863 Q730 871 733 880 M706 881.500 Q713 886.500 722.500 883"/>
<ellipse class="k" cx="738.300" cy="871.600" rx="2.600" ry="7.200"/>
<ellipse class="m" cx="712.500" cy="889.500" rx="7.500" ry="3.800" transform="rotate(18 712.500 889.500)"/>
</g>
<g id="p15">
<path d="M826 884 L905 815.500" fill="none" stroke="#111" stroke-width="7.400"/>
<path d="M826 884 L905 815.500" fill="none" stroke="#fff" stroke-width="3.600"/>
<path d="M831 882.500 L843 872 M892 829.500 L899 823.500" fill="none" stroke="#111" stroke-width="7.400"/>
<path class="hw" d="M817 884 L823.500 877.500 L832 877 L837 882 L834 891 L826 896.600 L818.500 895 L815.500 890 Z"/>
<path class="m" d="M823.500 877.500 L826 886 L818.500 895 M826 886 L834 891"/>
<path d="M892 818 L900 827.500 L906 822.500 L898 813 Z" fill="#111" stroke="#111" stroke-width="1.500"/>
<path class="hw" d="M900 809 L906 804.500 L913.500 805 L918.400 811 L918 818 L911 824 L904 824 L899 817 Z" style="stroke-width:3"/>
<path class="m" d="M906 804.500 L907.500 813 L904 824 M907.500 813 L918 811.500"/>
</g>
<g id="p14" transform="rotate(-40 951 831.500)">
<path class="hw" d="M938 825 L966 825 L966 838.500 L938 838.500 Q934.500 838 934.500 831.700 Q934.500 825.500 938 825 Z"/>
<path d="M944 825.500 Q941.500 831.700 944 838 M950.500 825.500 Q948 831.700 950.500 838 M956.500 825.500 Q954 831.700 956.500 838" fill="none" stroke="#111" stroke-width="2.800"/>
<path d="M960 824.500 L966 824.500 L966 839 L960 839 Z" fill="#111"/>
<ellipse cx="966" cy="831.700" rx="3.600" ry="7.800" fill="#fff" stroke="#111" stroke-width="2.400"/>
<path d="M962 826 Q960 831.700 962 837.500" fill="none" stroke="#fff" stroke-width="1.100"/>
</g>
<g id="p16">
<!-- right knob -->
<path class="hw" d="M1033 944 L1040 938.600 L1049 938.600 L1054.900 947 L1054.900 957 L1048 963.300 L1033 962.500 Z"/>
<path class="k" d="M1042.300 951 L1047 947.600 L1053 948.500 L1054.300 954 L1050 958.500 L1044 958 Z"/>
<path class="m" d="M1033 948 L1041 953 L1033 957"/>
<!-- lower body -->
<path class="hw" d="M1002.500 939.200 L1035 942.200 L1035 974.100 L1019 974.500 L1009.100 971.700 L1001.300 963.900 Z" style="stroke-width:2.600"/>
<path class="hw" d="M1003.500 944 Q998 943.400 997.600 948 Q997.400 952.500 1003 953.200 Z"/>
<path class="k" d="M1008.500 947.500 L1016 946.400 L1018 949.500 L1022.400 950 L1022.400 953.500 L1017 954 L1012 956.700 L1008.500 955 Z"/>
<path class="h" d="M1006.500 945 L1005.500 964 L1010.500 968 L1011.500 955"/>
<path class="k" d="M1002 956 L1005 956 L1005.500 966 L1002 964 Z"/>
<!-- top block -->
<path class="hw" d="M1007.300 912.700 L1044.700 915.700 L1042.900 939.500 L1006.100 938.600 Z" style="stroke-width:2.800"/>
<path class="k" d="M1015.700 912.200 L1030 912.500 L1044.700 915.700 L1044.500 920 L1027 918.500 L1024 923 L1018 922 Z"/>
<path d="M1027.500 918.800 L1042 919.800" stroke="#fff" stroke-width="1.100"/>
<path class="k" d="M1022 920 L1026.200 921 L1025 939 L1021 939 Z"/>
<path class="h" d="M1011.500 914 L1009.500 938.500"/>
<path d="M1009.500 915.500 l2 -1.500" stroke="#fff" stroke-width="1.200"/>
<path class="k" d="M1006 936.500 L1043 938 L1042.500 942.500 L1005.500 940.500 Z"/>
</g>
<g id="p17">
<path class="hw" d="M1181 971 L1211.800 972.200 L1207.600 1005.300 L1193 1005 L1178 1000.500 Z" style="stroke-width:2.600"/>
<path class="k" d="M1193.800 972 L1201 972 L1199 1005 L1193 1004.500 L1191.500 998 L1194 990 Z"/>
<path class="h" d="M1185 979 L1194 978 M1201 979.500 L1209 980 M1185 981 L1185.500 988 L1193 990 M1208 983 L1206.500 990 L1200 990.500"/>
<path class="hw" d="M1185 943.500 Q1190 941 1203 943.500 Q1213 946 1214.500 952 L1212.500 972 L1182.500 971 L1183.500 950 Z" style="stroke-width:2.800"/>
<path class="k" d="M1185 943.500 Q1190 941 1203 943.500 Q1213 946 1214.500 952 L1213.500 959 L1183 957 L1183.500 950 Z"/>
<g fill="#fff"><path d="M1188.500 953.500 l10 1 l0 3.500 l-10 -1z M1201.500 953 l9.500 1.500 l0 3.500 l-9.500 -1z M1194 948 l5 .5 l0 2.500 l-5 -.5z M1202 948.500 l4 .5 l0 2.500 l-4 -.5z"/><circle cx="1186.500" cy="946.500" r=".9"/><circle cx="1210.500" cy="952.300" r=".9"/></g>
<path class="k" d="M1183 957 L1213.500 959 L1213.200 963.500 L1182.800 961.500 Z M1182.600 968 L1212.800 969.500 L1212.500 972.800 L1182.400 971.500 Z M1197 963 h3 v6 h-3z"/>
<path d="M1188 960 L1210 962.300" stroke="#fff" stroke-width="1.600"/>
</g>
<g id="wheel22">
<g transform="rotate(8.5 970 1192)">
<path d="M970 1120.5 L944 1124.500 A29.500 71.500 0 0 0 944 1267.500 L970 1263.500 Z" fill="#111"/>
<ellipse cx="944" cy="1196" rx="29.500" ry="71.500" fill="#111"/>
<path d="M941.8 1266.4 L943.2 1264.8 L944.7 1266.4 L943.2 1268.0 Z" fill="#fff"/>
<path d="M936.7 1262.9 L938.5 1260.9 L940.3 1262.9 L938.5 1264.9 Z" fill="#fff"/>
<path d="M931.9 1257.1 L933.9 1254.8 L936.0 1257.1 L933.9 1259.3 Z" fill="#fff"/>
<path d="M927.6 1249.1 L929.8 1246.7 L932.0 1249.1 L929.8 1251.6 Z" fill="#fff"/>
<path d="M923.9 1239.4 L926.3 1236.7 L928.7 1239.4 L926.3 1242.0 Z" fill="#fff"/>
<path d="M921.0 1228.1 L923.5 1225.3 L926.0 1228.1 L923.5 1230.8 Z" fill="#fff"/>
<path d="M919.0 1215.7 L921.6 1212.9 L924.2 1215.7 L921.6 1218.5 Z" fill="#fff"/>
<path d="M918.0 1202.6 L920.6 1199.8 L923.2 1202.6 L920.6 1205.5 Z" fill="#fff"/>
<path d="M918.0 1189.4 L920.6 1186.5 L923.2 1189.4 L920.6 1192.2 Z" fill="#fff"/>
<path d="M919.0 1176.3 L921.6 1173.5 L924.2 1176.3 L921.6 1179.1 Z" fill="#fff"/>
<path d="M921.0 1163.9 L923.5 1161.2 L926.0 1163.9 L923.5 1166.7 Z" fill="#fff"/>
<path d="M923.9 1152.6 L926.3 1150.0 L928.7 1152.6 L926.3 1155.3 Z" fill="#fff"/>
<path d="M927.6 1142.9 L929.8 1140.4 L932.0 1142.9 L929.8 1145.3 Z" fill="#fff"/>
<path d="M931.9 1134.9 L933.9 1132.7 L936.0 1134.9 L933.9 1137.2 Z" fill="#fff"/>
<path d="M936.7 1129.1 L938.5 1127.1 L940.3 1129.1 L938.5 1131.1 Z" fill="#fff"/>
<path d="M945.0 1265.0 L946.6 1263.2 L948.2 1265.0 L946.6 1266.7 Z" fill="#fff"/>
<path d="M940.9 1260.3 L942.8 1258.1 L944.8 1260.3 L942.8 1262.4 Z" fill="#fff"/>
<path d="M936.9 1253.4 L939.1 1251.0 L941.2 1253.4 L939.1 1255.7 Z" fill="#fff"/>
<path d="M933.4 1244.5 L935.7 1241.9 L938.0 1244.5 L935.7 1247.0 Z" fill="#fff"/>
<path d="M930.4 1233.9 L932.9 1231.2 L935.3 1233.9 L932.9 1236.6 Z" fill="#fff"/>
<path d="M928.2 1222.0 L930.8 1219.2 L933.3 1222.0 L930.8 1224.8 Z" fill="#fff"/>
<path d="M926.9 1209.2 L929.4 1206.4 L932.0 1209.2 L929.4 1212.1 Z" fill="#fff"/>
<path d="M926.4 1196.0 L929.0 1193.1 L931.6 1196.0 L929.0 1198.9 Z" fill="#fff"/>
<path d="M926.9 1182.8 L929.4 1179.9 L932.0 1182.8 L929.4 1185.6 Z" fill="#fff"/>
<path d="M928.2 1170.0 L930.8 1167.2 L933.3 1170.0 L930.8 1172.8 Z" fill="#fff"/>
<path d="M930.4 1158.1 L932.9 1155.4 L935.3 1158.1 L932.9 1160.8 Z" fill="#fff"/>
<path d="M933.4 1147.5 L935.7 1145.0 L938.0 1147.5 L935.7 1150.1 Z" fill="#fff"/>
<path d="M936.9 1138.6 L939.1 1136.3 L941.2 1138.6 L939.1 1141.0 Z" fill="#fff"/>
<path d="M940.9 1131.7 L942.8 1129.6 L944.8 1131.7 L942.8 1133.9 Z" fill="#fff"/>
<path d="M945.0 1127.0 L946.6 1125.3 L948.2 1127.0 L946.6 1128.8 Z" fill="#fff"/>
<path d="M951.9 1266.4 L953.3 1264.8 L954.7 1266.4 L953.3 1268.0 Z" fill="#fff"/>
<path d="M949.2 1262.9 L951.0 1260.9 L952.7 1262.9 L951.0 1264.9 Z" fill="#fff"/>
<path d="M945.9 1257.1 L947.9 1254.8 L950.0 1257.1 L947.9 1259.3 Z" fill="#fff"/>
<path d="M942.6 1249.1 L944.9 1246.7 L947.1 1249.1 L944.9 1251.6 Z" fill="#fff"/>
<path d="M939.8 1239.4 L942.1 1236.7 L944.5 1239.4 L942.1 1242.0 Z" fill="#fff"/>
<path d="M937.5 1228.1 L939.9 1225.3 L942.4 1228.1 L939.9 1230.8 Z" fill="#fff"/>
<path d="M935.8 1215.7 L938.4 1212.9 L941.0 1215.7 L938.4 1218.5 Z" fill="#fff"/>
<path d="M935.0 1202.6 L937.6 1199.8 L940.2 1202.6 L937.6 1205.5 Z" fill="#fff"/>
<path d="M935.0 1189.4 L937.6 1186.5 L940.2 1189.4 L937.6 1192.2 Z" fill="#fff"/>
<path d="M935.8 1176.3 L938.4 1173.5 L941.0 1176.3 L938.4 1179.1 Z" fill="#fff"/>
<path d="M937.5 1163.9 L939.9 1161.2 L942.4 1163.9 L939.9 1166.7 Z" fill="#fff"/>
<path d="M939.8 1152.6 L942.1 1150.0 L944.5 1152.6 L942.1 1155.3 Z" fill="#fff"/>
<path d="M942.6 1142.9 L944.9 1140.4 L947.1 1142.9 L944.9 1145.3 Z" fill="#fff"/>
<path d="M945.9 1134.9 L947.9 1132.7 L950.0 1134.9 L947.9 1137.2 Z" fill="#fff"/>
<path d="M949.2 1129.1 L951.0 1127.1 L952.7 1129.1 L951.0 1131.1 Z" fill="#fff"/>
<ellipse cx="970" cy="1192" rx="29.500" ry="71.500" fill="#fff" stroke="#111" stroke-width="2"/>
<ellipse cx="970.500" cy="1194" rx="22.500" ry="56" fill="#fff" stroke="#111" stroke-width="5"/>
<ellipse cx="972" cy="1194.500" rx="19" ry="50" fill="none" stroke="#111" stroke-width="1.400"/>
<path class="m" d="M971.8 1185.2 L975.3 1144.7"/>
<path class="m" d="M974.3 1186.4 L977.8 1145.8"/>
<path class="m" d="M976.7 1189.4 L989.4 1175.0"/>
<path class="m" d="M977.6 1193.5 L990.3 1179.1"/>
<path class="m" d="M977.2 1197.9 L988.2 1222.0"/>
<path class="m" d="M975.7 1201.5 L986.7 1225.6"/>
<path class="m" d="M971.8 1203.7 L969.4 1245.1"/>
<path class="m" d="M969.2 1203.0 L966.8 1244.3"/>
<path class="m" d="M967.0 1200.9 L955.3 1221.9"/>
<path class="m" d="M965.6 1197.1 L954.0 1218.1"/>
<path class="m" d="M965.8 1191.1 L954.8 1167.0"/>
<path class="m" d="M967.3 1187.5 L956.3 1163.4"/>
<path class="hw" d="M966 1186 L974 1172 L984 1174 L985 1200 L977 1212 L968 1206 Z"/>
<path class="m" d="M974 1172 L976 1198 L985 1200 M976 1198 L968 1206 M979 1177 L980.500 1197"/>
<ellipse cx="970.500" cy="1195" rx="5" ry="8" fill="#fff" stroke="#111" stroke-width="2.600"/>
<ellipse cx="970.500" cy="1195" rx="1.800" ry="3.400" fill="none" stroke="#111" stroke-width="1.200"/>
</g>
</g>
<g id="p20_21_23">
<rect class="k" x="862.500" y="1120.500" width="13" height="16.500" rx="4.500" transform="rotate(6 869 1128.700)"/>
<path d="M866.500 1126 v6 M870.500 1125.500 v7 M867 1129 h4" stroke="#fff" stroke-width="1.100" fill="none"/>
<ellipse class="k" cx="902" cy="1182.300" rx="4.600" ry="7.600" transform="rotate(6 902 1182.300)"/>
<path d="M1009 1202.500 L1050 1210" stroke="#111" stroke-width="10.400" fill="none"/>
<path d="M1021.500 1205 L1048 1209.700" stroke="#fff" stroke-width="7.200" fill="none"/>
<path class="hw" d="M1047 1203 L1053 1200.500 L1059.500 1203.500 L1060.600 1213 L1055.500 1218.700 L1048 1216.500 L1045.800 1209.500 Z"/>
<path class="m" d="M1053 1200.500 L1052 1209.500 L1055.500 1218.700 M1052 1209.500 L1045.800 1209.500"/>
</g>
<g id="logo51">
<path class="mw" d="M224.400 1021.400 Q226 1020 232 1020.200 Q270 1019.500 301.700 1024.400 Q335 1030 362.800 1038.700 L425.800 1061 Q431 1063 430.900 1067.100 Q431 1074 428.900 1078.300 Q420 1088 403.500 1093.600 Q380 1098.500 352.600 1095.600 Q325 1092.500 301.700 1087.500 L250.900 1074.300 L226.400 1065.100 Q220.500 1061 220.300 1054.900 Q220 1040 224.400 1021.400 Z"/>
<path d="M276.300 1034.600 Q315 1031 342.400 1040.700 Q372 1050 375 1063.100 Q375 1073 356.700 1077.300 L342 1080.200" fill="none" stroke="#111" stroke-width="2.400" stroke-linecap="round"/>
<path d="M295 1035.600 Q318 1036 334 1043.500 Q360 1054 363 1065 Q362 1074 350 1078.300" fill="none" stroke="#111" stroke-width="1.600" stroke-linecap="round"/>
<text transform="translate(247 1062) rotate(9) skewX(-6)" style="font-family:'Liberation Sans',sans-serif;font-weight:bold;font-style:italic;font-size:26px;fill:#fff;stroke:#111;stroke-width:3.400;stroke-linejoin:round;paint-order:stroke" textLength="103" lengthAdjust="spacingAndGlyphs">Powermate</text>
<ellipse class="k" cx="424.800" cy="1072.200" rx="1" ry="2"/>
</g>
<g id="p29">
<path class="hw" d="M446 1075 h8 v5.500 h-8 z" style="stroke-width:1.800"/>
<circle class="k" cx="455.500" cy="1077.800" r="5"/>
</g>
<g id="p24_27">
<!-- 27 -->
<path class="hw" d="M648.500 1237 Q654 1234 659.500 1237 L659.500 1248 L648.500 1248 Z"/>
<path class="k" d="M633 1244 L647.800 1242.600 L647.800 1261.500 L635 1259.500 L633 1255 Z"/>
<path d="M636 1247.500 h8 M636 1252 h8 M636 1256.500 h8" stroke="#fff" stroke-width="1.100"/>
<path class="hw" d="M647.800 1248 L655 1246.500 L664.400 1250 L664.400 1261 L656 1266 L647.800 1262 Z"/>
<path class="m" d="M655 1246.500 L655.500 1266 M660 1259 l1 1.500"/>
<!-- 26 -->
<path class="hw" d="M569.500 1273.600 A15.800 5.600 0 0 1 601.100 1273.600 L601.100 1284.600 A15.800 5.600 0 0 1 569.500 1284.600 Z"/>
<path class="m" d="M569.500 1273.600 A15.800 5.600 0 0 0 601.100 1273.600"/>
<ellipse class="k" cx="585.300" cy="1273.200" rx="2.600" ry="1.100"/>
<!-- 25 -->
<ellipse cx="585.600" cy="1306.200" rx="7.600" ry="3.300" fill="#fff" stroke="#111" stroke-width="2.600"/>
<ellipse class="k" cx="585.600" cy="1306" rx="3.400" ry="1.100"/>
<!-- 24 -->
<path class="hw" d="M582.500 1320 Q585 1318 587.500 1320 L587.500 1334 L589.200 1335 L589.200 1340 L585 1341.700 L581 1340 L581 1335 L582.500 1334 Z"/>
<path class="m" d="M581 1335 Q585 1337.500 589.200 1335"/>
</g>
<g id="d17_screws">
<path d="M137 1480.500 L174.500 1488" stroke="#111" stroke-width="4.200" stroke-linecap="round" fill="none"/>
<ellipse class="k" cx="136.500" cy="1479.500" rx="4.500" ry="6.500" transform="rotate(12 136.500 1479.500)"/>
<path d="M108 1516.500 L146 1524.500" stroke="#111" stroke-width="4.200" stroke-linecap="round" fill="none"/>
<ellipse class="k" cx="107.500" cy="1515.800" rx="4.500" ry="6.500" transform="rotate(12 107.500 1515.800)"/>
<path d="M141 1545.500 L177 1553" stroke="#111" stroke-width="6.400" stroke-linecap="round" fill="none"/>
<path d="M147 1543 l-1 7 M151.500 1544 l-1 7 M156 1545 l-1 7 M160.500 1546 l-1 7 M165 1547 l-1 7 M169.500 1548 l-1 7 M174 1549 l-1 7" stroke="#fff" stroke-width="1.300" fill="none"/>
<ellipse class="k" cx="139.500" cy="1545" rx="5" ry="8.800" transform="rotate(10 139.500 1545)"/>
<path d="M89 1596 L126 1603.500" stroke="#111" stroke-width="6.400" stroke-linecap="round" fill="none"/>
<path d="M95 1593.500 l-1 7 M99.500 1594.500 l-1 7 M104 1595.500 l-1 7 M108.500 1596.500 l-1 7 M113 1597.500 l-1 7 M117.500 1598.500 l-1 7 M122 1599.500 l-1 7" stroke="#fff" stroke-width="1.300" fill="none"/>
<ellipse class="k" cx="87.200" cy="1595.200" rx="5" ry="8.800" transform="rotate(10 87.200 1595.200)"/>
</g>
<g id="p45" class="dt">
<!-- main body right -->
<path class="mw" d="M216 1521.500 L248.900 1530.100 L248.900 1544 L255.800 1547.500 L255.800 1578.600 L247.200 1623.700 L209 1629.800 L200.400 1611.600 L210 1585 L200 1560 Z"/>
<ellipse class="m" cx="251.700" cy="1570" rx="3.200" ry="10.400" transform="rotate(8 251.700 1570)"/>
<path class="m" d="M248.900 1544 L247.500 1580 L247.200 1623.700 M246 1574 L252 1581"/>
<!-- top notch block -->
<path class="mw" d="M227.200 1494.600 L248 1496.300 L248 1520.600 L241.100 1525.800 L216 1521.500 L210.800 1512.800 L226.400 1499.800 Z"/>
<path class="m" d="M241.100 1525.800 L241.500 1502 L248 1496.300 M241.500 1502 L226.400 1499.800 M243.500 1506 v14 M246 1504 v14"/>
<path class="mw" d="M214 1512 Q212 1520 219 1521 L239 1524 L239 1520 L222 1517.500 Q218 1516 221 1511.500 L226 1507 L239 1509 L239 1505 L225 1503 Z"/>
<!-- upper-left wing -->
<path class="mw" d="M207.300 1499.800 L226.400 1499.800 L210.800 1512.800 L216 1521.500 L187.400 1528.400 Z"/>
<path class="m" d="M193 1522 L209 1501.500 M200 1524 L212 1509"/>
<!-- middle blocks -->
<path class="mw" d="M187.400 1528.400 L222 1532 L248.900 1530.100 L248.900 1544 L243 1550 L222 1548.500 L222 1557 L200 1562 L187.400 1557.900 Z"/>
<path class="m" d="M222 1532 L222 1548.500 M222 1532 L228 1527.500 M228 1541 h15 v8 M228 1541 v7 M187.400 1540 L200 1544 L213 1541 L213 1533 M200 1544 v18 M187.400 1548 L200 1552"/>
<path class="h" d="M204 1534 L218 1535.500 L218 1546 L204 1545"/>
<path class="mw" d="M187.400 1557.900 L200 1562 L222 1557 L223.500 1577 L205 1582.500 L198.600 1585.600 L188.200 1576.900 Z"/>
<path class="h" d="M200 1562 Q203 1573 212 1578 L223.500 1577 M205 1560.500 Q207 1568 213 1572.500 L222 1571"/>
<path class="m" d="M188.200 1576.900 L200 1581.500 L205 1582.500 M200 1562 L200 1581.500"/>
<!-- lower diagonal and foot -->
<path class="mw" d="M198.600 1585.600 L215 1588 L203 1607.500 L184 1605.500 Z"/>
<path class="m" d="M215 1588 L219 1582 M203 1607.500 L205 1604 M192 1607 v5 h5"/>
<path class="mw" d="M179.600 1602.900 Q171 1610 170.900 1622 Q171 1637 177.900 1646.200 Q187 1656 200.400 1659.200 L219.400 1639.300 L209 1629.800 Q202 1621 200.400 1611.600 L203 1607.500 L184 1605.500 Z"/>
<path class="m" d="M175 1626 Q180 1648 203 1654 M186 1628 Q180 1626 176 1622"/>
<path class="mw" d="M219.400 1639.300 L219.400 1659.200 L207.300 1653.200 Z"/>
<path class="k" d="M178 1606 Q174 1611 173 1620 Q177 1629 184 1628.500 Q189 1622 188 1612 L184 1606 Z"/>
<ellipse cx="183.500" cy="1621" rx="2" ry="3" fill="none" stroke="#fff" stroke-width="1"/>
</g>
<g id="p44" class="dt">
<ellipse class="mw" cx="247.500" cy="1650" rx="13.800" ry="14.500"/>
<path class="m" d="M251 1637 Q259 1642 258.500 1655 Q257 1662 252 1665"/>
<ellipse class="mw" cx="243" cy="1653" rx="14.500" ry="14.800" style="stroke-width:2.200"/>
<ellipse class="m" cx="243" cy="1653.500" rx="11.800" ry="12.400"/>
</g>
<g id="p43">
<path class="k" d="M268 1603 Q280 1603 286 1612 Q287 1622 279 1632 L273 1637 Q260 1635 254 1625 Q254 1612 268 1603 Z" style="stroke-width:2"/>
<path d="M261 1620 Q266 1628 274 1627 M265 1612.500 Q271 1621 279 1619.500" stroke="#fff" stroke-width="1.200" fill="none"/>
</g>
<g id="d17_tubes" class="dt">
<!-- upper tube -->
<path class="m" d="M360.800 1383 L362.100 1438 M402.900 1383 L404.500 1438 M362.500 1479 L362 1507 M404.500 1480 L405.500 1507"/>
<g>
<path d="M354.300 1441.700 L360.500 1441.700 L361.500 1438 L405 1438 L405.300 1441.700 L411.300 1441.700 L412.100 1470 L407.400 1472.300 L406.700 1479.300 L397.400 1480.800 L395 1485.500 L388 1486.200 L387.300 1483.100 L381.900 1483.100 L381.100 1486.200 L373.300 1485.500 L362.500 1479.300 L354.300 1471.500 Z" fill="#fff"/><path class="m" d="M361.500 1438 L360.500 1441.700 L354.300 1441.700 L354.300 1471.500 L362.500 1479.300 L373.300 1485.500 L381.100 1486.200 L381.900 1483.100 L387.300 1483.100 L388 1486.200 L395 1485.500 L397.400 1480.800 L406.700 1479.300 L407.400 1472.300 L412.100 1470 L411.300 1441.700 L405.300 1441.700 L405 1438"/>
<path class="m" d="M355.900 1444.800 Q361 1453 373.300 1458.300 L381.100 1457.600 L387.300 1458.300 L394.300 1456 L396.600 1454.500 L405.900 1453.700 Q404 1449 408.500 1444.500"/>
<path class="m" d="M358.600 1447.500 L358.600 1474.500 M373.300 1458.300 L373.300 1485.500 M381.100 1457.600 L380.500 1470 L382.500 1471 L381.900 1483.100 M387.300 1458.300 L387.300 1483.100 M394.300 1456 L395 1485.500 M399.700 1454.500 L399.200 1466 L401 1467 L400.600 1480 M406.300 1453.700 L406.700 1479.300"/>
</g>
<g transform="translate(.8 69)">
<path d="M354.300 1441.700 L360.500 1441.700 L361.500 1438 L405 1438 L405.300 1441.700 L411.300 1441.700 L412.100 1470 L407.400 1472.300 L406.700 1479.300 L397.400 1480.800 L395 1485.500 L388 1486.200 L387.300 1483.100 L381.900 1483.100 L381.100 1486.200 L373.300 1485.500 L362.500 1479.300 L354.300 1471.500 Z" fill="#fff"/><path class="m" d="M361.500 1438 L360.500 1441.700 L354.300 1441.700 L354.300 1471.500 L362.500 1479.300 L373.300 1485.500 L381.100 1486.200 L381.900 1483.100 L387.300 1483.100 L388 1486.200 L395 1485.500 L397.400 1480.800 L406.700 1479.300 L407.400 1472.300 L412.100 1470 L411.300 1441.700 L405.300 1441.700 L405 1438"/>
<path class="m" d="M355.900 1444.800 Q361 1453 373.300 1458.300 L381.100 1457.600 L387.300 1458.300 L394.300 1456 L396.600 1454.500 L405.900 1453.700 Q404 1449 408.500 1444.500"/>
<path class="m" d="M358.600 1447.500 L358.600 1474.500 M373.300 1458.300 L373.300 1485.500 M381.100 1457.600 L380.500 1470 L382.500 1471 L381.900 1483.100 M387.300 1458.300 L387.300 1483.100 M394.300 1456 L395 1485.500 M399.700 1454.500 L399.200 1466 L401 1467 L400.600 1480 M406.300 1453.700 L406.700 1479.300"/>
</g>
<!-- lower big tube -->
<path class="m" d="M354.100 1606 L354.100 1626 L310.900 1690.200 Q305 1700 306.500 1712 Q309 1728 317.600 1741.200"/>
<path class="m" d="M416.200 1606 L419.500 1756.700"/>
<ellipse class="mw" cx="385.100" cy="1609.300" rx="31" ry="17.700" style="stroke-width:2.400"/>
<ellipse class="m" cx="385.300" cy="1609.500" rx="28" ry="15.200"/>
<path class="m" d="M354.100 1626 Q380 1622 395 1632 Q403 1640 401.800 1647 Q400 1655 395.100 1661.400 L360.800 1704.600 Q358.500 1708.500 360.800 1712.400 L435 1768.900"/>
<path class="m" d="M383 1672 Q378 1660 381 1652 Q384 1646 388 1648.500 Q392 1653 390 1663 Z M383 1672 Q384 1660 388 1648.500"/>
</g>
<g id="p42" class="dt">
<path class="mw" d="M293.200 1540.600 L308.700 1539.100 L344.100 1547.300 Q352 1550 355.200 1555 L355.200 1562.800 L328.600 1588.300 L326.400 1594.900 L315.300 1599.400 L300 1595 L273.200 1599.400 L266.600 1581.600 L267.700 1575 Z"/>
<path class="m" d="M297 1546 Q320 1545 337 1553.500 Q345 1557 349 1561 M293.500 1552 Q315 1550 332 1559 L340 1565 M293.200 1540.600 L297 1546 L275 1576 L267.700 1575 M275 1576 L278 1592 M349 1556 L325 1582 M352 1558.500 L328.600 1584"/>
<path class="m" d="M291 1546 a2 2 0 1 0 .1 0 M350 1560 a1.500 1.500 0 1 0 .1 0"/>
<!-- cylinder -->
<path class="mw" d="M286 1571 Q300 1560 318 1566 Q330 1572 332 1583 L326.400 1594.900 L312 1602 L300 1607 Z"/>
<path class="m" d="M305 1563.500 Q322 1566 327 1580 M309 1576 Q316 1580 317 1590 Q318 1600 311 1606"/>
<ellipse class="mw" cx="292.500" cy="1592.500" rx="15" ry="16.500" transform="rotate(-20 292.500 1592.500)" style="stroke-width:2.400"/>
<ellipse class="m" cx="292" cy="1593" rx="10.500" ry="12" transform="rotate(-20 292 1593)"/>
<path class="m" d="M289 1584 Q293 1594 302 1597"/>
<path class="mw" d="M266.600 1581.600 L273.500 1578 L279 1590 L273.200 1599.400 Z"/>
</g>
<g id="p46" class="dt">
<!-- right body -->
<path class="mw" d="M545.500 1585.200 L544 1624.400 L539.500 1645.500 L540.200 1705.800 L533.400 1713.300 L492.800 1723.100 L503 1700 L521.400 1689.200 L526 1660 L526.700 1612 L525.900 1607.800 Z"/>
<!-- top piece -->
<path class="mw" d="M510.100 1562.600 L518.400 1559.600 L536.500 1563.400 L538.700 1572.400 L545.500 1577.700 L545.500 1585.200 L525.900 1607.800 L519.900 1600.300 L510.800 1588.200 Z"/>
<path class="m" d="M514 1566 L518.400 1562 L534 1565.500 L531 1572 Q527 1584 512 1589 M514 1566 Q524 1570 528 1577 M536.500 1577.700 L519.900 1600.300 M538.700 1572.400 L536.500 1577.700 L545.500 1583.700 M533 1568 l3 3"/>
<path class="h" d="M512 1592 Q524 1588 530 1578 M534 1586 L524 1600"/>
<!-- left clamp ear -->
<path class="mw" d="M480.700 1600.300 L491.200 1591.200 L510.800 1592 L519.900 1600.300 L521.400 1612.300 L500.300 1615.400 L481.400 1607.800 Z"/>
<path class="m" d="M484 1599 L502 1601.500 L502 1613 M502 1601.500 L510 1594 M506 1603 Q514 1600 519 1603 M506 1612 Q514 1611 519 1607"/>
<path class="h" d="M482 1601 Q480 1605 483 1608.500 L500 1615"/>
<!-- spine -->
<path class="m" d="M522.100 1612 V1651 M526.700 1612 V1649"/>
<!-- mid blocks -->
<path class="mw" d="M491.200 1625.900 L521.400 1628.900 L521.400 1636 L505 1650 L518.400 1659.100 L485.200 1654.500 L485.200 1648.500 L491.200 1642.500 Z"/>
<path class="h" d="M491.200 1630.500 L512 1632.500 Q506 1642 492 1645 M487 1651 Q500 1652 508 1645"/>
<path class="m" d="M500 1616 L512 1628 M491.200 1642.500 L503 1644 M514 1629 v6 M518 1629.500 v5"/>
<!-- lower -->
<path class="mw" d="M485.200 1654.500 L518.400 1659.100 L530.400 1659.100 Q535 1661 534.200 1665.100 L530.400 1678.700 L521.400 1689.200 L503.300 1698.300 L471.700 1671.100 Z"/>
<path class="m" d="M518.400 1659.100 L518.400 1690 M508 1659 L519 1664 M530 1662 Q531 1672 524 1683"/>
<!-- left stub -->
<path class="mw" d="M458.100 1671.100 L471.700 1671.100 Q492 1680 503.300 1698.300 L492.800 1698.300 L455.100 1689.200 Q453.500 1685 454.300 1681.700 Z"/>
<!-- saddle -->
<path d="M471.700 1671.100 Q492 1678 501 1692 Q505 1700 498.800 1710.300 L491.200 1720.900" fill="none" stroke="#111" stroke-width="4.600" stroke-linecap="round"/>
<path d="M473 1672 Q492 1679 500.500 1692.500 Q504 1700 498.500 1709.500 L491.500 1720" fill="none" stroke="#fff" stroke-width="1.200" stroke-dasharray="3 2"/>
<path class="mw" d="M485.200 1701.300 L471.700 1720.100 L491.200 1720.900 Q498 1712 497 1705 Z"/>
<!-- black bosses -->
<ellipse class="k" cx="545.300" cy="1638" rx="6" ry="13.600" transform="rotate(8 545.300 1638)"/>
<ellipse class="k" cx="510.800" cy="1692" rx="6.400" ry="13.600" transform="rotate(12 510.800 1692)"/>
<path d="M546 1630 v3 M544 1644 v3 M512 1684 v3 M509.500 1698 v3" stroke="#fff" stroke-width="1.300"/>
<path class="h" d="M539 1640 L530 1649 L526 1656"/>
</g>
<g id="d16_tubes" class="dt">
<path class="m" d="M873 1383 L876.500 1470 M915 1383 L917.500 1440 M878 1467 L879.300 1508 M917.500 1462 L919.600 1508"/>
<!-- clip 1 -->
<path class="mw" d="M877.400 1438.700 Q896 1446 915 1438.700 L915 1459.500 Q896 1470.500 877.400 1459.500 Z"/>
<path class="m" d="M882 1440.500 L882 1462 M887.500 1442 L887.500 1464.500 M908 1441.500 L908 1463.500 M911.500 1440.500 L911.500 1461.500"/>
<path class="mw" d="M868.500 1421.500 Q871.500 1418.500 874.500 1420.500 L876.500 1440 L877.400 1459.500 L870.500 1457 L867.400 1432 Z"/>
<path class="mw" d="M916 1420.500 Q921 1417.500 923.500 1420.500 L925 1445 L923.500 1455 L917 1458.500 L915 1440 Z"/>
<path class="m" d="M870.500 1426 a1.400 2 0 1 0 .1 0 M921 1425 a1.400 2 0 1 0 .1 0 M874 1440 L875 1458 M919.500 1440 L920.500 1456"/>
<!-- clip 2 -->
<path class="mw" d="M880.700 1506.300 Q900 1514 919.500 1506.300 L920 1527 Q914 1536 900 1536.200 Q887 1536 881.500 1529 Z"/>
<path class="m" d="M885.500 1508.500 L886 1532.500 M891 1510 L891.500 1535 M912 1509.500 L912.500 1533 M916 1508 L916.500 1530 M886 1527.500 Q900 1534 916.500 1525.500 M893 1531.500 Q900 1529 907 1531.500"/>
<path class="mw" d="M872.500 1488.500 Q875.500 1485.500 878.500 1487.500 L880.300 1508 L881.500 1528 L874.500 1523 L871.400 1499 Z"/>
<path class="mw" d="M920 1487.500 Q925 1484.500 927.500 1487.500 L928.300 1513 L927 1522 L920.500 1526.500 L919.500 1508 Z"/>
<path class="m" d="M874.500 1493 a1.400 2 0 1 0 .1 0 M925 1492 a1.400 2 0 1 0 .1 0 M878 1508 L879 1526 M923.500 1508 L924.500 1524"/>
<!-- lower tube -->
<path class="m" d="M936.100 1619.300 L943.800 1771 M877.400 1712.300 L879.600 1754.400"/>
<path class="m" d="M760 1706.800 Q795 1702 823.100 1690.100 M827.500 1687.900 L874.100 1639.200 L874.100 1625"/>
<ellipse class="mw" cx="905.100" cy="1623.700" rx="31" ry="18.300" style="stroke-width:2.400"/>
<ellipse class="m" cx="905.500" cy="1624" rx="28" ry="15.600"/>
<path class="m" d="M874.100 1639.200 Q895 1640 908 1647 Q920 1654 919.500 1662 Q919 1670 913.900 1676.900 L877.400 1712.300 Q860 1730 838.600 1741.100"/>
<path class="m" d="M905 1686 L878 1712"/>
<path class="m" d="M895.500 1689 Q891 1680 893.500 1673 Q896 1667.500 900 1669 Q905 1672 904.500 1680 Z M895.500 1689 Q895 1678 900 1669"/>
</g>
<g id="p49" class="dt">
<!-- right body + pin -->
<path class="mw" d="M858.600 1583.800 L870.700 1579.400 L870.700 1592.700 L866 1600 L860.800 1652.500 L823.100 1690.100 L814.200 1681.300 L836 1660 L828 1620 L828 1570 L858 1575 Z"/>
<path class="mw" d="M866 1597 L878 1594 Q883 1598 882.900 1606 Q882 1613 878 1614.800 L865 1612 Q862 1604 866 1597 Z"/>
<ellipse class="m" cx="877.500" cy="1604.500" rx="3.600" ry="8.500" transform="rotate(10 877.500 1604.500)"/>
<path class="m" d="M869 1597 Q866 1605 868.500 1612.500 M860.800 1652.500 L860 1590"/>
<!-- top clamp -->
<path class="mw" d="M794.300 1561.700 L823.100 1532.900 L832 1536 L843 1526.200 L860.800 1530.600 L865.200 1539.500 L863 1579.400 L858.600 1583.800 L828 1578 L828 1622 L816.500 1621.500 L803.200 1617 L796.500 1608.200 Z"/>
<path class="m" d="M843 1526.200 L852 1536 L852 1578 M852 1536 L860.800 1530.600 M823.100 1532.900 L798 1562 L812 1572 L812 1560 M832 1536 L806 1564"/>
<path class="h" d="M818 1562 Q818 1544 832 1540 L852 1543 M824 1568 Q824 1552 835 1548 L852 1551"/>
<path class="m" d="M828 1566 L852 1572 M828 1578 Q838 1572 852 1578 M856 1548 v8 M856 1562 v10 M862 1538 a2 3 0 1 0 .1 0"/>
<path class="mw" d="M796 1564 L800 1562 L810 1570 L810 1576 L803 1580 Z"/>
<path class="h" d="M816.500 1621.500 L816.500 1580 Q817 1572 824 1570 M824.500 1575 V1620"/>
<path d="M820.500 1582 v34" stroke="#111" stroke-width="1.400" stroke-dasharray="3 3" fill="none"/>
<!-- lower-left -->
<path class="mw" d="M803.200 1618.100 L828 1622 L836 1660 L814.200 1681.300 L803.200 1690.100 L778.800 1672.400 Q773 1664 773.300 1654.700 Q774 1646 778.800 1639.200 Z"/>
<path class="m" d="M778.800 1639.200 L806 1643 L828 1622 M806 1643 L812 1650 M810 1624 L786 1645"/>
<path class="h" d="M778 1642 Q772 1654 780 1670 L803.200 1688"/>
<path class="m" d="M783 1650 Q780 1660 786 1670 L806 1684"/>
<!-- cylinder pin -->
<path class="mw" d="M787 1642 L836.500 1655.500 Q840 1662 836.400 1670 L785 1655 Q781 1648 787 1642 Z"/>
<ellipse class="m" cx="833.500" cy="1663" rx="4.600" ry="7.600" transform="rotate(12 833.500 1663)"/>
<ellipse class="m" cx="833.500" cy="1663" rx="1.800" ry="3.400" transform="rotate(12 833.500 1663)"/>
<path class="m" d="M822 1676 a2.500 4 0 1 0 .1 0 M814.200 1681.300 L823.100 1690.100"/>
<ellipse class="k" cx="784" cy="1640.500" rx="3" ry="1.600" transform="rotate(-35 784 1640.500)"/>
</g>
<g id="p50" class="dt">
<!-- lower back body -->
<path class="mw" d="M1034 1654 L1035.900 1677.600 L1037.700 1722.800 L1030.400 1733.600 L981.600 1740.900 L988.800 1722.800 L1009.600 1715.500 L1010.500 1683 L1014.200 1670.300 Z"/>
<!-- top piece -->
<path class="mw" d="M1006.900 1587.100 L1014.200 1579 L1034 1584.400 L1034 1596.200 L1040.400 1600.700 L1040.400 1606 L1012 1622 L1007.800 1607 Z"/>
<path class="m" d="M1010 1589 L1014.200 1583 L1024 1586 L1023 1600 Q1018 1610 1009 1611 M1010 1589 Q1016 1593 1017 1602 M1024 1586 L1027 1583 M1027 1597 l4 -3.500"/>
<path class="h" d="M1009 1614 Q1020 1612 1025 1601"/>
<!-- main body -->
<path class="mw" d="M983.400 1610.600 L999.700 1612.500 L1034 1596.200 L1040.400 1600.700 L1041.300 1645 L1030.400 1655.900 L1030.400 1664 L1025 1663.100 L1014.200 1670.300 L974.400 1670.300 L973.500 1620.600 Z"/>
<path class="m" d="M1012.300 1632.300 L1014.200 1670.300 M1012.300 1632.300 L1040.400 1606 M976 1625 Q990 1632 1012.300 1632.300 M1009 1634 L1010.500 1669"/>
<path class="mw" d="M993 1622.500 Q994 1618 1000 1619.500 L1011 1622.500 Q1013 1628 1009 1633 L998 1636 Q991 1634 993 1622.500 Z" style="stroke-width:2.600"/>
<path class="m" d="M997 1624 Q995.500 1630 998.500 1634.500 M999.700 1612.500 L994 1619"/>
<!-- right boss -->
<ellipse class="mw" cx="1044.300" cy="1657.700" rx="7.600" ry="13.600" transform="rotate(10 1044.300 1657.700)" style="stroke-width:3"/>
<ellipse class="m" cx="1043.600" cy="1658" rx="3.800" ry="9" transform="rotate(10 1043.600 1658)"/>
<!-- lower front -->
<path class="mw" d="M974.400 1672.100 L957.200 1689.300 Q980 1698 988.800 1722.800 L1009.600 1715.500 L1010.500 1683 Z"/>
<path class="m" d="M974.400 1676 L1008 1685"/>
<path class="mw" d="M1010.500 1683 L1019.600 1677.600 Q1028 1679 1027.700 1684.800 L1025 1699.300 L1008.700 1710.100 Z"/>
<path class="m" d="M1022 1680 Q1024 1690 1018 1702"/>
<path d="M957.200 1689.300 Q978 1697 987 1718 Q988 1726 984 1733" fill="none" stroke="#111" stroke-width="4.400" stroke-linecap="round"/>
<path d="M959 1690.500 Q978 1698 986.500 1718.500" fill="none" stroke="#fff" stroke-width="1.100"/>
<path class="mw" d="M980.700 1717.300 L959.900 1738.100 L981.600 1740.900 Q986 1730 985 1722 Z"/>
<ellipse class="k" cx="998.800" cy="1713.500" rx="6.600" ry="14" transform="rotate(12 998.800 1713.500)"/>
<ellipse cx="998.300" cy="1713.500" rx="2.600" ry="9" transform="rotate(12 998.300 1713.500)" fill="none" stroke="#fff" stroke-width="1.100"/>
</g>
<g id="d16_screws">
<path d="M1101 1614 L1136 1622.500" stroke="#111" stroke-width="4.200" stroke-linecap="round" fill="none"/>
<ellipse class="k" cx="1136.300" cy="1624" rx="4.500" ry="6.500" transform="rotate(14 1136.300 1624)"/>
<path d="M1064 1649.500 L1099 1659.500" stroke="#111" stroke-width="4.200" stroke-linecap="round" fill="none"/>
<ellipse class="k" cx="1098.800" cy="1660.800" rx="4.800" ry="7" transform="rotate(14 1098.800 1660.800)"/>
<path d="M1110 1678.500 L1144 1688" stroke="#111" stroke-width="6.400" stroke-linecap="round" fill="none"/>
<path d="M1114.500 1676.500 l-1.500 7 M1119 1677.700 l-1.500 7 M1123.500 1679 l-1.500 7 M1128 1680.200 l-1.500 7 M1132.500 1681.500 l-1.500 7 M1137 1682.700 l-1.500 7" stroke="#fff" stroke-width="1.300" fill="none"/>
<ellipse class="k" cx="1145.300" cy="1689.300" rx="5.400" ry="9.200" transform="rotate(14 1145.300 1689.300)"/>
<ellipse cx="1146" cy="1689.500" rx="2" ry="5" transform="rotate(14 1146 1689.500)" fill="none" stroke="#fff" stroke-width="1"/>
<path d="M1066 1732.500 L1100 1742.500" stroke="#111" stroke-width="6.400" stroke-linecap="round" fill="none"/>
<path d="M1070.500 1730.500 l-1.500 7 M1075 1731.700 l-1.500 7 M1079.500 1733 l-1.500 7 M1084 1734.200 l-1.500 7 M1088.500 1735.500 l-1.500 7 M1093 1736.700 l-1.500 7" stroke="#fff" stroke-width="1.300" fill="none"/>
<ellipse class="k" cx="1101.400" cy="1744.300" rx="5.400" ry="9.200" transform="rotate(14 1101.400 1744.300)"/>
<ellipse cx="1102" cy="1744.500" rx="2" ry="5" transform="rotate(14 1102 1744.500)" fill="none" stroke="#fff" stroke-width="1"/>
</g>
<circle cx="582" cy="1412.500" r=".9" fill="#111"/>
<g id="labels">
<path class="ld" d="M240.0 178.5 L260.7 178.5 L332.6 157.5"/>
<text x="230.2" y="183.6">5</text>
<path class="ld" d="M243.0 216.5 L282.0 216.5"/>
<text x="224.6" y="221.6">41</text>
<path class="ld" d="M317.7 317.5 L336.0 317.5 L453.6 274.8"/>
<text x="298.7" y="322.6">38</text>
<path class="ld" d="M317.0 336.5 L337.0 336.5 L360.0 322.0"/>
<text x="298.0" y="342.6">37</text>
<path class="ld" d="M320.0 359.5 L340.0 359.5 L361.5 333.9"/>
<text x="300.2" y="364.3">35</text>
<path class="ld" d="M320.0 386.5 L339.0 386.5 L363.5 345.5"/>
<text x="300.2" y="391.6">36</text>
<path class="ld" d="M471.0 425.5 L453.0 425.5 L419.0 407.8"/>
<text x="471.7" y="430.3">36</text>
<path class="ld" d="M474.0 447.5 L455.0 447.5 L417.0 421.0"/>
<text x="474.2" y="452.6">35</text>
<path class="ld" d="M472.5 468.5 L453.6 468.5 L418.8 452.6"/>
<text x="473.2" y="474.1">34</text>
<path class="ld" d="M592.6 452.5 L573.7 452.5 L552.0 446.6"/>
<text x="593.2" y="457.4">36</text>
<path class="ld" d="M568.0 471.5 L548.8 471.5 L534.9 444.0"/>
<text x="567.9" y="476.6">35</text>
<path class="ld" d="M554.0 499.5 L534.9 499.5 L520.0 441.7"/>
<text x="554.6" y="504.2">37</text>
<path class="ld" d="M539.5 678.5 L559.0 678.5 L579.0 653.9"/>
<text x="530.2" y="684.0">8</text>
<path class="ld" d="M211.6 695.5 L231.5 695.5 L286.2 644.9"/>
<text x="193.2" y="700.6">33</text>
<path class="ld" d="M224.9 746.5 L244.8 746.5 L339.3 676.0"/>
<text x="205.8" y="751.6">53</text>
<path class="ld" d="M491.8 736.5 L471.9 736.5 L417.2 744.4"/>
<text x="492.4" y="742.6">32</text>
<path class="ld" d="M228.7 816.5 L248.6 816.5 L291.7 762.7"/>
<text x="210.0" y="821.3">31</text>
<path class="ld" d="M260.6 845.5 L280.5 845.5 L307.6 810.0"/>
<text x="241.2" y="851.8">30</text>
<path class="ld" d="M298.4 877.5 L318.3 877.5 L335.8 839.6"/>
<text x="278.7" y="882.3">54</text>
<path class="ld" d="M339.0 924.5 L358.4 924.5 L363.4 821.7"/>
<path class="ld" d="M358.4 924.5 L439.6 789.2"/>
<text x="319.2" y="930.0">31</text>
<path class="ld" d="M841.4 94.5 L821.5 94.5 L789.0 36.5"/>
<text x="842.1" y="99.6">1</text>
<path class="ld" d="M779.0 110.5 L760.8 110.5 L722.7 83.9"/>
<text x="779.6" y="115.6">2</text>
<path class="ld" d="M721.0 138.5 L702.0 138.5 L679.6 122.7"/>
<text x="721.9" y="143.8">3</text>
<path class="ld" d="M762.5 182.5 L742.6 182.5 L723.7 189.0"/>
<text x="763.6" y="187.9">4</text>
<path class="ld" d="M862.0 303.5 L843.0 303.5 L812.2 265.3"/>
<path class="ld" d="M843.0 303.5 L784.0 284.5"/>
<text x="862.8" y="309.6">5</text>
<path class="ld" d="M642.4 368.5 L623.2 368.5 L599.5 379.5"/>
<text x="642.6" y="374.1">40</text>
<path class="ld" d="M665.0 410.5 L646.4 410.5 L639.0 417.0"/>
<text x="664.8" y="415.9">39</text>
<path class="ld" d="M785.7 409.5 L767.4 409.5 L711.0 431.8"/>
<path class="ld" d="M767.4 409.5 L789.0 446.0"/>
<text x="786.5" y="414.9">5</text>
<path class="ld" d="M814.9 490.5 L795.6 490.5 L780.7 503.5"/>
<text x="815.4" y="495.8">6</text>
<path class="ld" d="M837.0 601.5 L818.8 601.5 L654.7 608.0"/>
<path class="ld" d="M818.8 601.5 L795.6 616.9"/>
<text x="837.9" y="607.6">7</text>
<path class="ld" d="M867.0 650.5 L847.0 650.5 L747.5 666.6"/>
<text x="866.4" y="655.6">10</text>
<path class="ld" d="M744.2 734.5 L725.3 734.5 L654.7 671.3"/>
<path class="ld" d="M725.3 734.5 L800.6 696.2"/>
<text x="745.2" y="741.2">9</text>
<path class="ld" d="M906.7 730.5 L887.8 730.5 L881.8 711.0"/>
<text x="906.8" y="735.9">11</text>
<path class="ld" d="M812.2 791.5 L794.0 791.5 L769.0 788.3"/>
<text x="811.6" y="797.9">12</text>
<path class="ld" d="M816.2 831.5 L796.3 831.5 L732.6 858.0"/>
<text x="815.6" y="836.6">13</text>
<path class="ld" d="M976.3 860.5 L967.0 860.5 L961.4 828.8"/>
<text x="975.7" y="865.8">14</text>
<path class="ld" d="M949.8 885.5 L929.9 885.5 L900.0 822.0"/>
<text x="949.9" y="891.6">15</text>
<path class="ld" d="M1251.7 323.5 L1232.5 323.5 L1183.0 376.0"/>
<text x="1251.9" y="328.6">52</text>
<path class="ld" d="M1144.0 856.5 L1162.9 856.5 L1207.0 800.3"/>
<text x="1124.8" y="861.6">19</text>
<path class="ld" d="M1145.6 907.5 L1164.8 907.5 L1191.4 920.7"/>
<text x="1126.8" y="913.0">18</text>
<path class="ld" d="M946.0 953.5 L965.9 953.5 L1007.0 932.3"/>
<text x="926.8" y="958.4">16</text>
<path class="ld" d="M1257.7 993.5 L1238.5 993.5 L1211.3 973.0"/>
<text x="1258.4" y="999.2">17</text>
<path class="ld" d="M906.0 1068.5 L886.9 1068.5 L870.3 1121.2"/>
<text x="906.0" y="1074.0">20</text>
<path class="ld" d="M950.2 1081.5 L931.6 1081.5 L902.8 1175.3"/>
<text x="950.4" y="1087.0">21</text>
<path class="ld" d="M999.6 1104.5 L980.7 1104.5 L972.4 1122.9"/>
<text x="999.8" y="1109.9">22</text>
<path class="ld" d="M1057.0 1135.5 L1037.7 1135.5 L1033.0 1202.5"/>
<text x="1056.8" y="1141.1">23</text>
<path class="ld" d="M463.2 1213.5 L482.4 1213.5 L509.0 1189.9"/>
<text x="443.2" y="1219.1">28</text>
<path class="ld" d="M684.4 1277.5 L665.5 1277.5 L655.5 1262.0"/>
<text x="684.6" y="1284.0">27</text>
<path class="ld" d="M641.3 1304.5 L622.4 1304.5 L595.2 1279.4"/>
<text x="641.5" y="1309.8">26</text>
<path class="ld" d="M628.3 1331.5 L609.8 1331.5 L586.6 1307.0"/>
<text x="628.9" y="1337.0">25</text>
<path class="ld" d="M625.0 1364.5 L605.8 1364.5 L585.9 1340.0"/>
<text x="625.9" y="1369.6">24</text>
<path class="ld" d="M202.4 1082.5 L222.3 1082.5 L236.2 1051.3"/>
<text x="184.0" y="1088.0">51</text>
<path class="ld" d="M409.6 1150.5 L429.5 1150.5 L455.0 1081.0"/>
<text x="389.6" y="1155.6">29</text>
<path class="ld" d="M167.7 1402.5 L187.7 1402.5 L310.3 1537.7"/>
<text x="147.2" y="1407.6">42</text>
<path class="ld" d="M75.0 1446.5 L94.0 1446.5 L105.0 1515.0"/>
<text x="54.6" y="1452.2">48</text>
<path class="ld" d="M69.0 1553.5 L89.5 1553.5 L135.0 1545.0"/>
<path class="ld" d="M89.5 1553.5 L89.5 1594.0"/>
<text x="48.6" y="1558.8">47</text>
<path class="ld" d="M129.0 1669.5 L149.0 1669.5 L177.7 1647.8"/>
<text x="110.6" y="1674.9">45</text>
<path class="ld" d="M206.7 1701.5 L226.2 1701.5 L248.7 1667.8"/>
<text x="188.3" y="1706.4">44</text>
<path class="ld" d="M230.2 1742.5 L249.2 1742.5 L270.3 1635.3"/>
<text x="211.8" y="1749.0">43</text>
<path class="ld" d="M603.0 1629.5 L583.0 1629.5 L530.5 1600.2"/>
<text x="603.6" y="1635.4">46</text>
<path class="ld" d="M759.0 1452.5 L779.0 1452.5 L830.7 1529.0"/>
<text x="739.2" y="1458.6">49</text>
<path class="ld" d="M1093.4 1553.5 L1074.4 1553.5 L1035.9 1590.2"/>
<text x="1093.6" y="1558.6">50</text>
<path class="ld" d="M1185.0 1651.5 L1166.0 1651.5 L1136.0 1627.8"/>
<path class="ld" d="M1166.0 1651.5 L1106.0 1660.3"/>
<text x="1185.6" y="1657.4">48</text>
<path class="ld" d="M1181.0 1732.5 L1161.0 1732.5 L1146.0 1695.3"/>
<path class="ld" d="M1161.0 1732.5 L1108.5 1739.4"/>
<text x="1181.6" y="1738.0">47</text>
<text x="922.3" y="982.3">SEE</text>
<text x="922.3" y="999.3" style="letter-spacing:.25px">DETAIL</text>
<text x="922.3" y="1016.1">#17</text>
<text x="1254.0" y="1022.4">SEE</text>
<text x="1254.0" y="1039.2" style="letter-spacing:.25px">DETAIL</text>
<text x="1254.0" y="1056.0">#16</text>
<text x="251.2" y="1796.6" style="letter-spacing:.25px">DETAIL #17</text>
<text x="941.3" y="1801.6" style="letter-spacing:.25px">DETAIL #16</text>
<path fill-rule="evenodd" fill="#231f20" d="M24 1379 H642.9 V1779.7 H24 Z M27.9 1382.9 V1776.1 H639.2 V1382.9 Z"/>
<path fill-rule="evenodd" fill="#231f20" d="M669.1 1379 H1287.9 V1779.7 H669.1 Z M672.9 1382.7 V1776.1 H1285.1 V1382.7 Z"/>
</g>
</svg>
</body>
</html>
